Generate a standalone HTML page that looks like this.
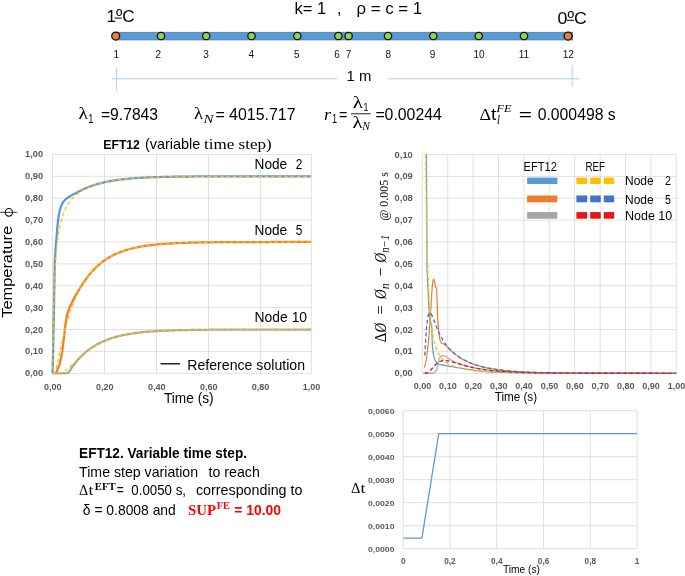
<!DOCTYPE html>
<html><head><meta charset="utf-8"><title>EFT12 variable time step</title>
<style>
html,body{margin:0;padding:0;background:#fff;}
body{width:685px;height:576px;overflow:hidden;font-family:"Liberation Sans",sans-serif;}
svg{display:block;}
</style></head><body>
<svg width="685" height="576" viewBox="0 0 685 576">
<rect x="0" y="0" width="685" height="576" fill="#ffffff"/>
<g opacity="0.999">
<rect x="115.7" y="32.2" width="457" height="7.8" fill="#5b9bd5" stroke="#41719c" stroke-width="0.6"/>
<circle cx="115.7" cy="36" r="4" fill="#ed7d31" stroke="#0d0d0d" stroke-width="1.25"/>
<circle cx="161.0" cy="36" r="3.7" fill="#92d050" stroke="#0d0d0d" stroke-width="1.25"/>
<circle cx="206.2" cy="36" r="3.7" fill="#92d050" stroke="#0d0d0d" stroke-width="1.25"/>
<circle cx="251.5" cy="36" r="3.7" fill="#92d050" stroke="#0d0d0d" stroke-width="1.25"/>
<circle cx="297.3" cy="36" r="3.7" fill="#92d050" stroke="#0d0d0d" stroke-width="1.25"/>
<circle cx="338.4" cy="36" r="3.7" fill="#92d050" stroke="#0d0d0d" stroke-width="1.25"/>
<circle cx="348.6" cy="36" r="3.7" fill="#92d050" stroke="#0d0d0d" stroke-width="1.25"/>
<circle cx="388.0" cy="36" r="3.7" fill="#92d050" stroke="#0d0d0d" stroke-width="1.25"/>
<circle cx="433.3" cy="36" r="3.7" fill="#92d050" stroke="#0d0d0d" stroke-width="1.25"/>
<circle cx="478.7" cy="36" r="3.7" fill="#92d050" stroke="#0d0d0d" stroke-width="1.25"/>
<circle cx="524.0" cy="36" r="3.7" fill="#92d050" stroke="#0d0d0d" stroke-width="1.25"/>
<circle cx="568.1" cy="36" r="4" fill="#ed7d31" stroke="#0d0d0d" stroke-width="1.25"/>
<text x="116.30" y="58.00" font-size="10" font-weight="normal" font-style="normal" font-family='"Liberation Sans", sans-serif' fill="#111" text-anchor="middle">1</text>
<text x="158.30" y="58.00" font-size="10" font-weight="normal" font-style="normal" font-family='"Liberation Sans", sans-serif' fill="#111" text-anchor="middle">2</text>
<text x="206.00" y="58.00" font-size="10" font-weight="normal" font-style="normal" font-family='"Liberation Sans", sans-serif' fill="#111" text-anchor="middle">3</text>
<text x="251.30" y="58.00" font-size="10" font-weight="normal" font-style="normal" font-family='"Liberation Sans", sans-serif' fill="#111" text-anchor="middle">4</text>
<text x="296.80" y="58.00" font-size="10" font-weight="normal" font-style="normal" font-family='"Liberation Sans", sans-serif' fill="#111" text-anchor="middle">5</text>
<text x="337.00" y="58.00" font-size="10" font-weight="normal" font-style="normal" font-family='"Liberation Sans", sans-serif' fill="#111" text-anchor="middle">6</text>
<text x="348.60" y="58.00" font-size="10" font-weight="normal" font-style="normal" font-family='"Liberation Sans", sans-serif' fill="#111" text-anchor="middle">7</text>
<text x="388.30" y="58.00" font-size="10" font-weight="normal" font-style="normal" font-family='"Liberation Sans", sans-serif' fill="#111" text-anchor="middle">8</text>
<text x="432.60" y="58.00" font-size="10" font-weight="normal" font-style="normal" font-family='"Liberation Sans", sans-serif' fill="#111" text-anchor="middle">9</text>
<text x="479.00" y="58.00" font-size="10" font-weight="normal" font-style="normal" font-family='"Liberation Sans", sans-serif' fill="#111" text-anchor="middle">10</text>
<text x="524.00" y="58.00" font-size="10" font-weight="normal" font-style="normal" font-family='"Liberation Sans", sans-serif' fill="#111" text-anchor="middle">11</text>
<text x="568.30" y="58.00" font-size="10" font-weight="normal" font-style="normal" font-family='"Liberation Sans", sans-serif' fill="#111" text-anchor="middle">12</text>
<text x="106.60" y="21.90" font-size="17" font-weight="normal" font-style="normal" font-family='"Liberation Sans", sans-serif' fill="#000" text-anchor="start" textLength="28.10" lengthAdjust="spacingAndGlyphs">1ºC</text>
<line x1="114.60" y1="18.10" x2="121.80" y2="18.10" stroke="#000" stroke-width="1.0"/>
<text x="557.60" y="24.00" font-size="17" font-weight="normal" font-style="normal" font-family='"Liberation Sans", sans-serif' fill="#000" text-anchor="start" textLength="29.20" lengthAdjust="spacingAndGlyphs">0ºC</text>
<line x1="566.60" y1="20.30" x2="574.00" y2="20.30" stroke="#000" stroke-width="1.0"/>
<text x="294.60" y="14.00" font-size="16" font-weight="normal" font-style="normal" font-family='"Liberation Sans", sans-serif' fill="#000" text-anchor="start" textLength="31.50" lengthAdjust="spacingAndGlyphs">k= 1</text>
<text x="337.00" y="14.00" font-size="16" font-weight="normal" font-style="normal" font-family='"Liberation Sans", sans-serif' fill="#000" text-anchor="start">,</text>
<text x="356.50" y="14.00" font-size="16" font-weight="normal" font-style="normal" font-family='"Liberation Sans", sans-serif' fill="#000" text-anchor="start" textLength="65.70" lengthAdjust="spacingAndGlyphs">ρ = c = 1</text>
<line x1="112.00" y1="78.80" x2="337.00" y2="78.80" stroke="#9dc3e6" stroke-width="0.8"/>
<line x1="388.60" y1="78.80" x2="579.00" y2="78.80" stroke="#9dc3e6" stroke-width="0.8"/>
<line x1="116.60" y1="67.70" x2="116.60" y2="91.00" stroke="#9dc3e6" stroke-width="0.8"/>
<line x1="572.20" y1="64.80" x2="572.20" y2="87.00" stroke="#9dc3e6" stroke-width="0.8"/>
<text x="346.60" y="81.20" font-size="15.5" font-weight="normal" font-style="normal" font-family='"Liberation Sans", sans-serif' fill="#000" text-anchor="start" textLength="24.80" lengthAdjust="spacingAndGlyphs">1 m</text>
<text x="78.40" y="119.20" font-size="17.5" font-weight="normal" font-style="normal" font-family='"Liberation Serif", serif' fill="#000" text-anchor="start" textLength="9.40" lengthAdjust="spacingAndGlyphs">λ</text>
<text x="88.20" y="122.70" font-size="12" font-weight="normal" font-style="normal" font-family='"Liberation Sans", sans-serif' fill="#000" text-anchor="start" textLength="5.20" lengthAdjust="spacingAndGlyphs">1</text>
<text x="100.90" y="119.50" font-size="16" font-weight="normal" font-style="normal" font-family='"Liberation Sans", sans-serif' fill="#000" text-anchor="start" textLength="57.20" lengthAdjust="spacingAndGlyphs">=9.7843</text>
<text x="194.10" y="119.20" font-size="17.5" font-weight="normal" font-style="normal" font-family='"Liberation Serif", serif' fill="#000" text-anchor="start" textLength="9.00" lengthAdjust="spacingAndGlyphs">λ</text>
<text x="203.60" y="122.70" font-size="13" font-weight="normal" font-style="italic" font-family='"Liberation Serif", serif' fill="#000" text-anchor="start" textLength="10.00" lengthAdjust="spacingAndGlyphs">N</text>
<text x="215.40" y="119.50" font-size="16" font-weight="normal" font-style="normal" font-family='"Liberation Sans", sans-serif' fill="#000" text-anchor="start" textLength="80.10" lengthAdjust="spacingAndGlyphs">= 4015.717</text>
<text x="324.00" y="119.50" font-size="17" font-weight="normal" font-style="italic" font-family='"Liberation Serif", serif' fill="#000" text-anchor="start" textLength="7.00" lengthAdjust="spacingAndGlyphs">r</text>
<text x="332.00" y="122.70" font-size="12" font-weight="normal" font-style="normal" font-family='"Liberation Sans", sans-serif' fill="#000" text-anchor="start" textLength="5.20" lengthAdjust="spacingAndGlyphs">1</text>
<text x="339.00" y="119.50" font-size="16" font-weight="normal" font-style="normal" font-family='"Liberation Sans", sans-serif' fill="#000" text-anchor="start" textLength="8.40" lengthAdjust="spacingAndGlyphs">=</text>
<text x="352.80" y="108.40" font-size="17.5" font-weight="normal" font-style="normal" font-family='"Liberation Serif", serif' fill="#000" text-anchor="start" textLength="10.20" lengthAdjust="spacingAndGlyphs">λ</text>
<text x="363.60" y="110.60" font-size="10.5" font-weight="normal" font-style="normal" font-family='"Liberation Sans", sans-serif' fill="#000" text-anchor="start" textLength="4.90" lengthAdjust="spacingAndGlyphs">1</text>
<line x1="351.00" y1="113.80" x2="370.60" y2="113.80" stroke="#000" stroke-width="0.9"/>
<text x="352.40" y="128.00" font-size="16" font-weight="normal" font-style="normal" font-family='"Liberation Serif", serif' fill="#000" text-anchor="start" textLength="10.00" lengthAdjust="spacingAndGlyphs">λ</text>
<text x="362.20" y="130.20" font-size="11.5" font-weight="normal" font-style="italic" font-family='"Liberation Serif", serif' fill="#000" text-anchor="start" textLength="7.60" lengthAdjust="spacingAndGlyphs">N</text>
<text x="375.40" y="119.50" font-size="16" font-weight="normal" font-style="normal" font-family='"Liberation Sans", sans-serif' fill="#000" text-anchor="start" textLength="66.40" lengthAdjust="spacingAndGlyphs">=0.00244</text>
<text x="479.40" y="119.50" font-size="16.5" font-weight="normal" font-style="normal" font-family='"Liberation Serif", serif' fill="#000" text-anchor="start" textLength="11.60" lengthAdjust="spacingAndGlyphs">Δ</text>
<text x="491.00" y="119.50" font-size="16" font-weight="normal" font-style="normal" font-family='"Liberation Sans", sans-serif' fill="#000" text-anchor="start" textLength="5.30" lengthAdjust="spacingAndGlyphs">t</text>
<text x="496.60" y="112.40" font-size="11" font-weight="normal" font-style="italic" font-family='"Liberation Serif", serif' fill="#000" text-anchor="start" textLength="15.00" lengthAdjust="spacingAndGlyphs">FE</text>
<text x="497.00" y="124.00" font-size="11.5" font-weight="normal" font-style="italic" font-family='"Liberation Serif", serif' fill="#000" text-anchor="start" textLength="3.00" lengthAdjust="spacingAndGlyphs">l</text>
<text x="518.80" y="119.50" font-size="16" font-weight="normal" font-style="normal" font-family='"Liberation Sans", sans-serif' fill="#000" text-anchor="start" textLength="13.20" lengthAdjust="spacingAndGlyphs">=</text>
<text x="537.70" y="119.50" font-size="16" font-weight="normal" font-style="normal" font-family='"Liberation Sans", sans-serif' fill="#000" text-anchor="start" textLength="78.00" lengthAdjust="spacingAndGlyphs">0.000498 s</text>
<line x1="52.50" y1="373.30" x2="311.40" y2="373.30" stroke="#d6d6d6" stroke-width="0.75"/>
<line x1="52.50" y1="351.41" x2="311.40" y2="351.41" stroke="#d6d6d6" stroke-width="0.75"/>
<line x1="52.50" y1="329.52" x2="311.40" y2="329.52" stroke="#d6d6d6" stroke-width="0.75"/>
<line x1="52.50" y1="307.63" x2="311.40" y2="307.63" stroke="#d6d6d6" stroke-width="0.75"/>
<line x1="52.50" y1="285.74" x2="311.40" y2="285.74" stroke="#d6d6d6" stroke-width="0.75"/>
<line x1="52.50" y1="263.85" x2="311.40" y2="263.85" stroke="#d6d6d6" stroke-width="0.75"/>
<line x1="52.50" y1="241.96" x2="311.40" y2="241.96" stroke="#d6d6d6" stroke-width="0.75"/>
<line x1="52.50" y1="220.07" x2="311.40" y2="220.07" stroke="#d6d6d6" stroke-width="0.75"/>
<line x1="52.50" y1="198.18" x2="311.40" y2="198.18" stroke="#d6d6d6" stroke-width="0.75"/>
<line x1="52.50" y1="176.29" x2="311.40" y2="176.29" stroke="#d6d6d6" stroke-width="0.75"/>
<line x1="52.50" y1="154.40" x2="311.40" y2="154.40" stroke="#d6d6d6" stroke-width="0.75"/>
<line x1="52.50" y1="154.40" x2="52.50" y2="373.30" stroke="#d6d6d6" stroke-width="0.75"/>
<line x1="104.50" y1="154.40" x2="104.50" y2="373.30" stroke="#d6d6d6" stroke-width="0.75"/>
<line x1="156.50" y1="154.40" x2="156.50" y2="373.30" stroke="#d6d6d6" stroke-width="0.75"/>
<line x1="208.50" y1="154.40" x2="208.50" y2="373.30" stroke="#d6d6d6" stroke-width="0.75"/>
<line x1="260.40" y1="154.40" x2="260.40" y2="373.30" stroke="#d6d6d6" stroke-width="0.75"/>
<line x1="311.40" y1="154.40" x2="311.40" y2="373.30" stroke="#d6d6d6" stroke-width="0.75"/>
<text x="25.00" y="376.30" font-size="8.5" font-weight="bold" font-style="normal" font-family='"Liberation Sans", sans-serif' fill="#595959" text-anchor="start" textLength="18.20" lengthAdjust="spacingAndGlyphs">0,00</text>
<text x="25.00" y="354.41" font-size="8.5" font-weight="bold" font-style="normal" font-family='"Liberation Sans", sans-serif' fill="#595959" text-anchor="start" textLength="18.20" lengthAdjust="spacingAndGlyphs">0,10</text>
<text x="25.00" y="332.52" font-size="8.5" font-weight="bold" font-style="normal" font-family='"Liberation Sans", sans-serif' fill="#595959" text-anchor="start" textLength="18.20" lengthAdjust="spacingAndGlyphs">0,20</text>
<text x="25.00" y="310.63" font-size="8.5" font-weight="bold" font-style="normal" font-family='"Liberation Sans", sans-serif' fill="#595959" text-anchor="start" textLength="18.20" lengthAdjust="spacingAndGlyphs">0,30</text>
<text x="25.00" y="288.74" font-size="8.5" font-weight="bold" font-style="normal" font-family='"Liberation Sans", sans-serif' fill="#595959" text-anchor="start" textLength="18.20" lengthAdjust="spacingAndGlyphs">0,40</text>
<text x="25.00" y="266.85" font-size="8.5" font-weight="bold" font-style="normal" font-family='"Liberation Sans", sans-serif' fill="#595959" text-anchor="start" textLength="18.20" lengthAdjust="spacingAndGlyphs">0,50</text>
<text x="25.00" y="244.96" font-size="8.5" font-weight="bold" font-style="normal" font-family='"Liberation Sans", sans-serif' fill="#595959" text-anchor="start" textLength="18.20" lengthAdjust="spacingAndGlyphs">0,60</text>
<text x="25.00" y="223.07" font-size="8.5" font-weight="bold" font-style="normal" font-family='"Liberation Sans", sans-serif' fill="#595959" text-anchor="start" textLength="18.20" lengthAdjust="spacingAndGlyphs">0,70</text>
<text x="25.00" y="201.18" font-size="8.5" font-weight="bold" font-style="normal" font-family='"Liberation Sans", sans-serif' fill="#595959" text-anchor="start" textLength="18.20" lengthAdjust="spacingAndGlyphs">0,80</text>
<text x="25.00" y="179.29" font-size="8.5" font-weight="bold" font-style="normal" font-family='"Liberation Sans", sans-serif' fill="#595959" text-anchor="start" textLength="18.20" lengthAdjust="spacingAndGlyphs">0,90</text>
<text x="25.00" y="157.40" font-size="8.5" font-weight="bold" font-style="normal" font-family='"Liberation Sans", sans-serif' fill="#595959" text-anchor="start" textLength="18.20" lengthAdjust="spacingAndGlyphs">1,00</text>
<text x="43.90" y="389.60" font-size="8.5" font-weight="bold" font-style="normal" font-family='"Liberation Sans", sans-serif' fill="#595959" text-anchor="start" textLength="17.60" lengthAdjust="spacingAndGlyphs">0,00</text>
<text x="95.90" y="389.60" font-size="8.5" font-weight="bold" font-style="normal" font-family='"Liberation Sans", sans-serif' fill="#595959" text-anchor="start" textLength="17.60" lengthAdjust="spacingAndGlyphs">0,20</text>
<text x="147.90" y="389.60" font-size="8.5" font-weight="bold" font-style="normal" font-family='"Liberation Sans", sans-serif' fill="#595959" text-anchor="start" textLength="17.60" lengthAdjust="spacingAndGlyphs">0,40</text>
<text x="199.90" y="389.60" font-size="8.5" font-weight="bold" font-style="normal" font-family='"Liberation Sans", sans-serif' fill="#595959" text-anchor="start" textLength="17.60" lengthAdjust="spacingAndGlyphs">0,60</text>
<text x="251.80" y="389.60" font-size="8.5" font-weight="bold" font-style="normal" font-family='"Liberation Sans", sans-serif' fill="#595959" text-anchor="start" textLength="17.60" lengthAdjust="spacingAndGlyphs">0,80</text>
<text x="302.80" y="389.60" font-size="8.5" font-weight="bold" font-style="normal" font-family='"Liberation Sans", sans-serif' fill="#595959" text-anchor="start" textLength="17.60" lengthAdjust="spacingAndGlyphs">1,00</text>
<polyline points="52.60,373.30 53.00,355.00 53.50,330.00 54.10,300.00 54.80,262.00 55.50,250.00 56.30,240.00 57.10,230.00 57.90,221.50 58.70,215.50 59.60,211.30 60.60,207.60 61.90,204.40 63.30,201.90 64.90,200.00 66.80,198.40 68.80,197.00 72.00,195.10 75.00,193.50 76.00,192.97 77.00,192.44 78.00,191.92 79.00,191.41 80.00,190.91 81.00,190.42 82.00,189.94 83.00,189.47 84.00,189.01 85.00,188.57 86.00,188.14 87.00,187.72 88.00,187.31 89.00,186.92 90.00,186.54 91.00,186.17 92.00,185.81 93.00,185.46 94.00,185.13 95.00,184.81 96.00,184.50 97.00,184.20 98.00,183.91 99.00,183.63 100.00,183.36 101.00,183.10 102.00,182.85 103.00,182.61 104.00,182.37 105.00,182.15 106.00,181.93 107.00,181.72 108.00,181.52 109.00,181.33 110.00,181.14 111.00,180.96 112.00,180.79 113.00,180.63 114.00,180.46 115.00,180.31 116.00,180.16 117.00,180.02 118.00,179.88 119.00,179.75 120.00,179.62 121.00,179.50 122.00,179.38 123.00,179.26 124.00,179.15 125.00,179.05 126.00,178.94 127.00,178.85 128.00,178.75 129.00,178.66 130.00,178.57 131.00,178.49 132.00,178.41 133.00,178.33 134.00,178.25 135.00,178.18 136.00,178.11 137.00,178.04 138.00,177.98 139.00,177.91 140.00,177.85 141.00,177.80 142.00,177.74 143.00,177.69 144.00,177.63 145.00,177.58 146.00,177.54 147.00,177.49 148.00,177.45 149.00,177.40 150.00,177.36 151.00,177.32 152.00,177.28 153.00,177.25 154.00,177.21 155.00,177.18 156.00,177.14 157.00,177.11 158.00,177.08 159.00,177.05 160.00,177.02 161.00,177.00 162.00,176.97 163.00,176.95 164.00,176.92 165.00,176.90 166.00,176.88 167.00,176.85 168.00,176.83 169.00,176.81 170.00,176.79 171.00,176.77 172.00,176.76 173.00,176.74 174.00,176.72 175.00,176.71 176.00,176.69 177.00,176.68 178.00,176.66 179.00,176.65 180.00,176.63 181.00,176.62 182.00,176.61 183.00,176.60 184.00,176.59 185.00,176.58 186.00,176.56 187.00,176.55 188.00,176.54 189.00,176.54 190.00,176.53 191.00,176.52 192.00,176.51 193.00,176.50 194.00,176.49 195.00,176.49 196.00,176.48 197.00,176.47 198.00,176.46 199.00,176.46 200.00,176.45 201.00,176.45 202.00,176.44 203.00,176.43 204.00,176.43 205.00,176.42 206.00,176.42 207.00,176.41 208.00,176.41 209.00,176.41 210.00,176.40 211.00,176.40 212.00,176.39 213.00,176.39 214.00,176.39 215.00,176.38 216.00,176.38 217.00,176.38 218.00,176.37 219.00,176.37 220.00,176.37 221.00,176.36 222.00,176.36 223.00,176.36 224.00,176.36 225.00,176.35 226.00,176.35 227.00,176.35 228.00,176.35 229.00,176.34 230.00,176.34 231.00,176.34 232.00,176.34 233.00,176.34 234.00,176.33 235.00,176.33 236.00,176.33 237.00,176.33 238.00,176.33 239.00,176.33 240.00,176.33 241.00,176.32 242.00,176.32 243.00,176.32 244.00,176.32 245.00,176.32 246.00,176.32 247.00,176.32 248.00,176.32 249.00,176.32 250.00,176.31 251.00,176.31 252.00,176.31 253.00,176.31 254.00,176.31 255.00,176.31 256.00,176.31 257.00,176.31 258.00,176.31 259.00,176.31 260.00,176.31 261.00,176.31 262.00,176.31 263.00,176.30 264.00,176.30 265.00,176.30 266.00,176.30 267.00,176.30 268.00,176.30 269.00,176.30 270.00,176.30 271.00,176.30 272.00,176.30 273.00,176.30 274.00,176.30 275.00,176.30 276.00,176.30 277.00,176.30 278.00,176.30 279.00,176.30 280.00,176.30 281.00,176.30 282.00,176.30 283.00,176.30 284.00,176.30 285.00,176.30 286.00,176.30 287.00,176.30 288.00,176.30 289.00,176.30 290.00,176.30 291.00,176.30 292.00,176.30 293.00,176.29 294.00,176.29 295.00,176.29 296.00,176.29 297.00,176.29 298.00,176.29 299.00,176.29 300.00,176.29 301.00,176.29 302.00,176.29 303.00,176.29 304.00,176.29 305.00,176.29 306.00,176.29 307.00,176.29 308.00,176.29 309.00,176.29 310.00,176.29 311.00,176.29 311.00,176.29" fill="none" stroke="#5b9bd5" stroke-width="2.25" stroke-linejoin="round"/>
<polyline points="55.50,373.30 56.50,372.10 59.70,364.00 62.10,352.70 63.70,339.80 65.30,325.30 66.90,315.60 68.50,310.20 70.20,306.00 74.20,297.90 79.00,289.90 80.00,288.24 81.00,286.62 82.00,285.02 83.00,283.47 84.00,281.96 85.00,280.50 86.00,279.08 87.00,277.72 88.00,276.39 89.00,275.12 90.00,273.89 91.00,272.70 92.00,271.56 93.00,270.46 94.00,269.40 95.00,268.37 96.00,267.39 97.00,266.44 98.00,265.53 99.00,264.66 100.00,263.81 101.00,263.00 102.00,262.22 103.00,261.46 104.00,260.74 105.00,260.04 106.00,259.37 107.00,258.72 108.00,258.10 109.00,257.50 110.00,256.92 111.00,256.37 112.00,255.83 113.00,255.32 114.00,254.82 115.00,254.34 116.00,253.88 117.00,253.44 118.00,253.02 119.00,252.60 120.00,252.21 121.00,251.83 122.00,251.46 123.00,251.11 124.00,250.77 125.00,250.44 126.00,250.13 127.00,249.83 128.00,249.53 129.00,249.25 130.00,248.98 131.00,248.72 132.00,248.47 133.00,248.23 134.00,248.00 135.00,247.77 136.00,247.56 137.00,247.35 138.00,247.15 139.00,246.96 140.00,246.77 141.00,246.59 142.00,246.42 143.00,246.26 144.00,246.10 145.00,245.94 146.00,245.80 147.00,245.65 148.00,245.52 149.00,245.39 150.00,245.26 151.00,245.14 152.00,245.02 153.00,244.90 154.00,244.80 155.00,244.69 156.00,244.59 157.00,244.49 158.00,244.40 159.00,244.31 160.00,244.22 161.00,244.14 162.00,244.06 163.00,243.98 164.00,243.90 165.00,243.83 166.00,243.76 167.00,243.69 168.00,243.63 169.00,243.57 170.00,243.51 171.00,243.45 172.00,243.40 173.00,243.34 174.00,243.29 175.00,243.24 176.00,243.19 177.00,243.15 178.00,243.10 179.00,243.06 180.00,243.02 181.00,242.98 182.00,242.94 183.00,242.91 184.00,242.87 185.00,242.84 186.00,242.81 187.00,242.77 188.00,242.74 189.00,242.72 190.00,242.69 191.00,242.66 192.00,242.63 193.00,242.61 194.00,242.59 195.00,242.56 196.00,242.54 197.00,242.52 198.00,242.50 199.00,242.48 200.00,242.46 201.00,242.44 202.00,242.42 203.00,242.41 204.00,242.39 205.00,242.37 206.00,242.36 207.00,242.34 208.00,242.33 209.00,242.31 210.00,242.30 211.00,242.29 212.00,242.28 213.00,242.26 214.00,242.25 215.00,242.24 216.00,242.23 217.00,242.22 218.00,242.21 219.00,242.20 220.00,242.19 221.00,242.19 222.00,242.18 223.00,242.17 224.00,242.16 225.00,242.15 226.00,242.15 227.00,242.14 228.00,242.13 229.00,242.13 230.00,242.12 231.00,242.11 232.00,242.11 233.00,242.10 234.00,242.10 235.00,242.09 236.00,242.09 237.00,242.08 238.00,242.08 239.00,242.07 240.00,242.07 241.00,242.07 242.00,242.06 243.00,242.06 244.00,242.05 245.00,242.05 246.00,242.05 247.00,242.04 248.00,242.04 249.00,242.04 250.00,242.04 251.00,242.03 252.00,242.03 253.00,242.03 254.00,242.02 255.00,242.02 256.00,242.02 257.00,242.02 258.00,242.02 259.00,242.01 260.00,242.01 261.00,242.01 262.00,242.01 263.00,242.01 264.00,242.00 265.00,242.00 266.00,242.00 267.00,242.00 268.00,242.00 269.00,242.00 270.00,242.00 271.00,241.99 272.00,241.99 273.00,241.99 274.00,241.99 275.00,241.99 276.00,241.99 277.00,241.99 278.00,241.99 279.00,241.99 280.00,241.98 281.00,241.98 282.00,241.98 283.00,241.98 284.00,241.98 285.00,241.98 286.00,241.98 287.00,241.98 288.00,241.98 289.00,241.98 290.00,241.98 291.00,241.98 292.00,241.98 293.00,241.97 294.00,241.97 295.00,241.97 296.00,241.97 297.00,241.97 298.00,241.97 299.00,241.97 300.00,241.97 301.00,241.97 302.00,241.97 303.00,241.97 304.00,241.97 305.00,241.97 306.00,241.97 307.00,241.97 308.00,241.97 309.00,241.97 310.00,241.97 311.00,241.97 311.00,241.97" fill="none" stroke="#ed7d31" stroke-width="2.25" stroke-linejoin="round"/>
<polyline points="52.60,373.30 67.70,373.20 69.30,371.60 71.00,368.90 74.20,364.20 79.00,358.60 83.90,353.60 84.90,352.78 85.90,351.97 86.90,351.19 87.90,350.43 88.90,349.69 89.90,348.98 90.90,348.29 91.90,347.62 92.90,346.97 93.90,346.34 94.90,345.73 95.90,345.14 96.90,344.57 97.90,344.03 98.90,343.50 99.90,342.99 100.90,342.49 101.90,342.02 102.90,341.56 103.90,341.12 104.90,340.69 105.90,340.28 106.90,339.88 107.90,339.50 108.90,339.13 109.90,338.78 110.90,338.44 111.90,338.11 112.90,337.79 113.90,337.49 114.90,337.19 115.90,336.91 116.90,336.63 117.90,336.37 118.90,336.12 119.90,335.87 120.90,335.64 121.90,335.41 122.90,335.19 123.90,334.98 124.90,334.78 125.90,334.59 126.90,334.40 127.90,334.22 128.90,334.04 129.90,333.88 130.90,333.71 131.90,333.56 132.90,333.41 133.90,333.26 134.90,333.13 135.90,332.99 136.90,332.86 137.90,332.74 138.90,332.62 139.90,332.51 140.90,332.39 141.90,332.29 142.90,332.19 143.90,332.09 144.90,331.99 145.90,331.90 146.90,331.81 147.90,331.73 148.90,331.64 149.90,331.57 150.90,331.49 151.90,331.42 152.90,331.35 153.90,331.28 154.90,331.21 155.90,331.15 156.90,331.09 157.90,331.03 158.90,330.98 159.90,330.92 160.90,330.87 161.90,330.82 162.90,330.77 163.90,330.73 164.90,330.68 165.90,330.64 166.90,330.60 167.90,330.56 168.90,330.52 169.90,330.48 170.90,330.45 171.90,330.41 172.90,330.38 173.90,330.35 174.90,330.32 175.90,330.29 176.90,330.26 177.90,330.23 178.90,330.20 179.90,330.18 180.90,330.15 181.90,330.13 182.90,330.11 183.90,330.09 184.90,330.07 185.90,330.04 186.90,330.03 187.90,330.01 188.90,329.99 189.90,329.97 190.90,329.95 191.90,329.94 192.90,329.92 193.90,329.91 194.90,329.89 195.90,329.88 196.90,329.87 197.90,329.85 198.90,329.84 199.90,329.83 200.90,329.82 201.90,329.81 202.90,329.80 203.90,329.79 204.90,329.78 205.90,329.77 206.90,329.76 207.90,329.75 208.90,329.74 209.90,329.73 210.90,329.72 211.90,329.72 212.90,329.71 213.90,329.70 214.90,329.70 215.90,329.69 216.90,329.68 217.90,329.68 218.90,329.67 219.90,329.67 220.90,329.66 221.90,329.65 222.90,329.65 223.90,329.64 224.90,329.64 225.90,329.64 226.90,329.63 227.90,329.63 228.90,329.62 229.90,329.62 230.90,329.62 231.90,329.61 232.90,329.61 233.90,329.61 234.90,329.60 235.90,329.60 236.90,329.60 237.90,329.59 238.90,329.59 239.90,329.59 240.90,329.59 241.90,329.58 242.90,329.58 243.90,329.58 244.90,329.58 245.90,329.57 246.90,329.57 247.90,329.57 248.90,329.57 249.90,329.57 250.90,329.56 251.90,329.56 252.90,329.56 253.90,329.56 254.90,329.56 255.90,329.56 256.90,329.56 257.90,329.55 258.90,329.55 259.90,329.55 260.90,329.55 261.90,329.55 262.90,329.55 263.90,329.55 264.90,329.55 265.90,329.55 266.90,329.54 267.90,329.54 268.90,329.54 269.90,329.54 270.90,329.54 271.90,329.54 272.90,329.54 273.90,329.54 274.90,329.54 275.90,329.54 276.90,329.54 277.90,329.54 278.90,329.54 279.90,329.54 280.90,329.53 281.90,329.53 282.90,329.53 283.90,329.53 284.90,329.53 285.90,329.53 286.90,329.53 287.90,329.53 288.90,329.53 289.90,329.53 290.90,329.53 291.90,329.53 292.90,329.53 293.90,329.53 294.90,329.53 295.90,329.53 296.90,329.53 297.90,329.53 298.90,329.53 299.90,329.53 300.90,329.53 301.90,329.53 302.90,329.53 303.90,329.53 304.90,329.53 305.90,329.53 306.90,329.53 307.90,329.53 308.90,329.53 309.90,329.52 310.90,329.52 311.00,329.52" fill="none" stroke="#a5a5a5" stroke-width="2.25" stroke-linejoin="round"/>
<polyline points="52.55,369.01 52.55,368.92 52.56,368.67 52.56,368.25 52.57,367.67 52.58,366.93 52.59,366.02 52.60,364.96 52.62,363.76 52.64,362.41 52.66,360.92 52.68,359.30 52.70,357.55 52.73,355.69 52.75,353.72 52.78,351.65 52.82,349.48 52.85,347.23 52.89,344.90 52.93,342.51 52.97,340.05 53.01,337.54 53.05,334.99 53.10,332.41 53.15,329.79 53.20,327.15 53.25,324.50 53.31,321.84 53.36,319.18 53.42,316.53 53.48,313.88 53.55,311.25 53.61,308.64 53.68,306.06 53.75,303.50 53.82,300.97 53.89,298.48 53.97,296.02 54.05,293.61 54.13,291.23 54.21,288.90 54.29,286.61 54.38,284.37 54.47,282.18 54.56,280.03 54.65,277.93 54.74,275.88 54.84,273.87 54.94,271.91 55.04,270.00 55.14,268.13 55.24,266.31 55.35,264.54 55.46,262.81 55.57,261.12 55.68,259.47 55.80,257.87 55.92,256.31 56.03,254.79 56.16,253.30 56.28,251.86 56.40,250.45 56.53,249.07 56.66,247.73 56.79,246.43 56.93,245.15 57.06,243.91 57.20,242.70 57.34,241.52 57.48,240.37 57.63,239.24 57.77,238.14 57.92,237.07 58.07,236.02 58.22,235.00 58.38,234.01 58.53,233.03 58.69,232.08 58.85,231.15 59.01,230.24 59.18,229.35 59.34,228.48 59.51,227.63 59.68,226.79 59.86,225.98 60.03,225.18 60.21,224.40 60.39,223.64 60.57,222.89 60.75,222.16 60.94,221.44 61.13,220.74 61.32,220.05 61.51,219.38 61.70,218.71 61.90,218.07 62.09,217.43 62.29,216.81 62.50,216.19 62.70,215.59 62.91,215.00 63.11,214.43 63.32,213.86 63.54,213.30 63.75,212.76 63.97,212.22 64.19,211.69 64.41,211.17 64.63,210.66 64.85,210.16 65.08,209.67 65.31,209.19 65.54,208.71 65.77,208.25 66.01,207.79 66.24,207.34 66.48,206.89 66.73,206.46 66.97,206.03 67.21,205.61 67.46,205.19 67.71,204.78 67.96,204.38 68.22,203.98 68.47,203.59 68.73,203.21 68.99,202.83 69.25,202.46 69.52,202.09 69.78,201.73 70.05,201.37 70.32,201.02 70.59,200.68 70.87,200.34 71.14,200.00 71.42,199.67 71.70,199.34 71.99,199.02 72.27,198.71 72.56,198.39 72.85,198.09 73.14,197.78 73.43,197.48 73.72,197.19 74.02,196.90 74.32,196.61 74.62,196.32 74.93,196.05 75.23,195.77 75.54,195.50 75.85,195.23 76.16,194.96 76.47,194.70 76.79,194.44 77.11,194.19 77.43,193.93 77.75,193.69 78.07,193.44 78.40,193.20 78.73,192.96 79.06,192.72 79.39,192.49 79.72,192.26 80.06,192.03 80.40,191.81 80.74,191.58 81.08,191.36 81.43,191.15 81.77,190.93 82.12,190.72 82.47,190.51 82.83,190.31 83.18,190.10 83.54,189.90 83.90,189.70 84.26,189.50 84.62,189.31 84.99,189.12 85.36,188.93 85.73,188.74 86.10,188.56 86.47,188.37 86.85,188.19 87.23,188.01 87.61,187.84 87.99,187.66 88.37,187.49 88.76,187.32 89.15,187.15 89.54,186.98 89.93,186.82 90.32,186.66 90.72,186.50 91.12,186.34 91.52,186.18 91.92,186.03 92.33,185.87 92.73,185.72 93.14,185.57 93.55,185.43 93.97,185.28 94.38,185.14 94.80,185.00 95.22,184.86 95.64,184.72 96.06,184.58 96.49,184.44 96.92,184.31 97.35,184.18 97.78,184.05 98.21,183.92 98.65,183.79 99.09,183.67 99.53,183.55 99.97,183.42 100.41,183.30 100.86,183.18 101.31,183.07 101.76,182.95 102.21,182.84 102.66,182.72 103.12,182.61 103.58,182.50 104.04,182.39 104.50,182.29 104.97,182.18 105.44,182.08 105.90,181.98 106.38,181.88 106.85,181.78 107.32,181.68 107.80,181.58 108.28,181.48 108.76,181.39 109.25,181.30 109.73,181.21 110.22,181.12 110.71,181.03 111.20,180.94 111.69,180.85 112.19,180.77 112.69,180.68 113.19,180.60 113.69,180.52 114.19,180.44 114.70,180.36 115.21,180.28 115.72,180.21 116.23,180.13 116.75,180.06 117.26,179.98 117.78,179.91 118.30,179.84 118.83,179.77 119.35,179.70 119.88,179.64 120.41,179.57 120.94,179.50 121.47,179.44 122.01,179.38 122.54,179.32 123.08,179.25 123.63,179.19 124.17,179.14 124.71,179.08 125.26,179.02 125.81,178.96 126.36,178.91 126.92,178.85 127.47,178.80 128.03,178.75 128.59,178.70 129.15,178.65 129.72,178.60 130.28,178.55 130.85,178.50 131.42,178.45 132.00,178.41 132.57,178.36 133.15,178.32 133.73,178.27 134.31,178.23 134.89,178.19 135.48,178.15 136.06,178.10 136.65,178.06 137.24,178.03 137.84,177.99 138.43,177.95 139.03,177.91 139.63,177.88 140.23,177.84 140.83,177.81 141.44,177.77 142.05,177.74 142.66,177.70 143.27,177.67 143.88,177.64 144.50,177.61 145.12,177.58 145.74,177.55 146.36,177.52 146.98,177.49 147.61,177.46 148.24,177.44 148.87,177.41 149.50,177.38 150.14,177.36 150.77,177.33 151.41,177.31 152.05,177.28 152.70,177.26 153.34,177.23 153.99,177.21 154.64,177.19 155.29,177.17 155.94,177.15 156.60,177.13 157.25,177.10 157.91,177.08 158.58,177.06 159.24,177.05 159.91,177.03 160.57,177.01 161.24,176.99 161.92,176.97 162.59,176.96 163.27,176.94 163.94,176.92 164.62,176.91 165.31,176.89 165.99,176.88 166.68,176.86 167.37,176.85 168.06,176.83 168.75,176.82 169.44,176.80 170.14,176.79 170.84,176.78 171.54,176.76 172.24,176.75 172.95,176.74 173.66,176.73 174.36,176.72 175.08,176.71 175.79,176.69 176.50,176.68 177.22,176.67 177.94,176.66 178.66,176.65 179.39,176.64 180.11,176.63 180.84,176.62 181.57,176.61 182.30,176.61 183.04,176.60 183.77,176.59 184.51,176.58 185.25,176.57 185.99,176.56 186.74,176.56 187.49,176.55 188.23,176.54 188.98,176.54 189.74,176.53 190.49,176.52 191.25,176.52 192.01,176.51 192.77,176.50 193.53,176.50 194.30,176.49 195.06,176.49 195.83,176.48 196.60,176.47 197.38,176.47 198.15,176.46 198.93,176.46 199.71,176.45 200.49,176.45 201.28,176.44 202.06,176.44 202.85,176.44 203.64,176.43 204.43,176.43 205.23,176.42 206.02,176.42 206.82,176.42 207.62,176.41 208.42,176.41 209.23,176.40 210.04,176.40 210.84,176.40 211.65,176.39 212.47,176.39 213.28,176.39 214.10,176.39 214.92,176.38 215.74,176.38 216.56,176.38 217.39,176.37 218.21,176.37 219.04,176.37 219.88,176.37 220.71,176.36 221.54,176.36 222.38,176.36 223.22,176.36 224.06,176.36 224.91,176.35 225.75,176.35 226.60,176.35 227.45,176.35 228.30,176.35 229.16,176.34 230.01,176.34 230.87,176.34 231.73,176.34 232.60,176.34 233.46,176.34 234.33,176.33 235.20,176.33 236.07,176.33 236.94,176.33 237.81,176.33 238.69,176.33 239.57,176.33 240.45,176.33 241.33,176.32 242.22,176.32 243.11,176.32 244.00,176.32 244.89,176.32 245.78,176.32 246.68,176.32 247.57,176.32 248.47,176.32 249.38,176.32 250.28,176.31 251.19,176.31 252.09,176.31 253.00,176.31 253.92,176.31 254.83,176.31 255.75,176.31 256.66,176.31 257.59,176.31 258.51,176.31 259.43,176.31 260.36,176.31 261.29,176.31 262.22,176.31 263.15,176.30 264.09,176.30 265.02,176.30 265.96,176.30 266.90,176.30 267.85,176.30 268.79,176.30 269.74,176.30 270.69,176.30 271.64,176.30 272.59,176.30 273.55,176.30 274.51,176.30 275.47,176.30 276.43,176.30 277.39,176.30 278.36,176.30 279.33,176.30 280.30,176.30 281.27,176.30 282.24,176.30 283.22,176.30 284.20,176.30 285.18,176.30 286.16,176.30 287.15,176.30 288.13,176.30 289.12,176.30 290.11,176.30 291.11,176.30 292.10,176.29 293.10,176.29 294.10,176.29 295.10,176.29 296.10,176.29 297.11,176.29 298.11,176.29 299.12,176.29 300.14,176.29 301.15,176.29 302.17,176.29 303.18,176.29 304.20,176.29 305.22,176.29 306.25,176.29 307.27,176.29 308.30,176.29 309.33,176.29 310.37,176.29 311.40,176.29" fill="none" stroke="#ffc000" stroke-width="1.3" stroke-linejoin="round" stroke-dasharray="3.6 2.8"/>
<polyline points="52.55,373.30 52.55,373.30 52.56,373.30 52.56,373.30 52.57,373.30 52.58,373.30 52.59,373.30 52.60,373.30 52.62,373.30 52.64,373.30 52.66,373.30 52.68,373.30 52.70,373.30 52.73,373.30 52.75,373.30 52.78,373.30 52.82,373.30 52.85,373.30 52.89,373.30 52.93,373.29 52.97,373.29 53.01,373.29 53.05,373.29 53.10,373.28 53.15,373.28 53.20,373.27 53.25,373.26 53.31,373.25 53.36,373.23 53.42,373.21 53.48,373.19 53.55,373.17 53.61,373.14 53.68,373.10 53.75,373.06 53.82,373.01 53.89,372.95 53.97,372.89 54.05,372.82 54.13,372.73 54.21,372.64 54.29,372.53 54.38,372.42 54.47,372.29 54.56,372.14 54.65,371.98 54.74,371.81 54.84,371.62 54.94,371.42 55.04,371.19 55.14,370.95 55.24,370.70 55.35,370.42 55.46,370.12 55.57,369.81 55.68,369.47 55.80,369.11 55.92,368.74 56.03,368.34 56.16,367.93 56.28,367.49 56.40,367.03 56.53,366.56 56.66,366.06 56.79,365.54 56.93,365.01 57.06,364.45 57.20,363.88 57.34,363.29 57.48,362.68 57.63,362.05 57.77,361.41 57.92,360.75 58.07,360.07 58.22,359.38 58.38,358.68 58.53,357.96 58.69,357.23 58.85,356.48 59.01,355.72 59.18,354.96 59.34,354.18 59.51,353.39 59.68,352.59 59.86,351.78 60.03,350.96 60.21,350.14 60.39,349.30 60.57,348.46 60.75,347.62 60.94,346.77 61.13,345.91 61.32,345.05 61.51,344.19 61.70,343.32 61.90,342.45 62.09,341.57 62.29,340.70 62.50,339.82 62.70,338.94 62.91,338.06 63.11,337.18 63.32,336.30 63.54,335.41 63.75,334.53 63.97,333.65 64.19,332.77 64.41,331.89 64.63,331.02 64.85,330.14 65.08,329.27 65.31,328.40 65.54,327.53 65.77,326.66 66.01,325.80 66.24,324.94 66.48,324.08 66.73,323.22 66.97,322.37 67.21,321.53 67.46,320.68 67.71,319.84 67.96,319.01 68.22,318.18 68.47,317.35 68.73,316.53 68.99,315.71 69.25,314.90 69.52,314.09 69.78,313.28 70.05,312.48 70.32,311.69 70.59,310.90 70.87,310.11 71.14,309.33 71.42,308.56 71.70,307.79 71.99,307.02 72.27,306.26 72.56,305.51 72.85,304.76 73.14,304.02 73.43,303.28 73.72,302.54 74.02,301.81 74.32,301.09 74.62,300.37 74.93,299.66 75.23,298.95 75.54,298.25 75.85,297.55 76.16,296.86 76.47,296.18 76.79,295.50 77.11,294.82 77.43,294.15 77.75,293.49 78.07,292.83 78.40,292.17 78.73,291.53 79.06,290.88 79.39,290.25 79.72,289.61 80.06,288.99 80.40,288.36 80.74,287.75 81.08,287.14 81.43,286.53 81.77,285.93 82.12,285.34 82.47,284.75 82.83,284.16 83.18,283.58 83.54,283.01 83.90,282.44 84.26,281.88 84.62,281.32 84.99,280.76 85.36,280.22 85.73,279.67 86.10,279.14 86.47,278.60 86.85,278.08 87.23,277.56 87.61,277.04 87.99,276.53 88.37,276.02 88.76,275.52 89.15,275.02 89.54,274.53 89.93,274.04 90.32,273.56 90.72,273.09 91.12,272.62 91.52,272.15 91.92,271.69 92.33,271.23 92.73,270.78 93.14,270.33 93.55,269.89 93.97,269.46 94.38,269.02 94.80,268.60 95.22,268.17 95.64,267.76 96.06,267.34 96.49,266.94 96.92,266.53 97.35,266.14 97.78,265.74 98.21,265.35 98.65,264.97 99.09,264.59 99.53,264.21 99.97,263.84 100.41,263.48 100.86,263.12 101.31,262.76 101.76,262.41 102.21,262.06 102.66,261.72 103.12,261.38 103.58,261.04 104.04,260.71 104.50,260.39 104.97,260.06 105.44,259.75 105.90,259.43 106.38,259.12 106.85,258.82 107.32,258.52 107.80,258.22 108.28,257.93 108.76,257.64 109.25,257.36 109.73,257.08 110.22,256.80 110.71,256.53 111.20,256.26 111.69,255.99 112.19,255.73 112.69,255.48 113.19,255.22 113.69,254.97 114.19,254.73 114.70,254.48 115.21,254.25 115.72,254.01 116.23,253.78 116.75,253.55 117.26,253.33 117.78,253.11 118.30,252.89 118.83,252.68 119.35,252.46 119.88,252.26 120.41,252.05 120.94,251.85 121.47,251.66 122.01,251.46 122.54,251.27 123.08,251.08 123.63,250.90 124.17,250.72 124.71,250.54 125.26,250.36 125.81,250.19 126.36,250.02 126.92,249.85 127.47,249.69 128.03,249.53 128.59,249.37 129.15,249.21 129.72,249.06 130.28,248.91 130.85,248.76 131.42,248.62 132.00,248.47 132.57,248.33 133.15,248.20 133.73,248.06 134.31,247.93 134.89,247.80 135.48,247.67 136.06,247.55 136.65,247.42 137.24,247.30 137.84,247.18 138.43,247.07 139.03,246.95 139.63,246.84 140.23,246.73 140.83,246.62 141.44,246.52 142.05,246.41 142.66,246.31 143.27,246.21 143.88,246.12 144.50,246.02 145.12,245.93 145.74,245.83 146.36,245.74 146.98,245.66 147.61,245.57 148.24,245.49 148.87,245.40 149.50,245.32 150.14,245.24 150.77,245.16 151.41,245.09 152.05,245.01 152.70,244.94 153.34,244.87 153.99,244.80 154.64,244.73 155.29,244.66 155.94,244.59 156.60,244.53 157.25,244.47 157.91,244.41 158.58,244.35 159.24,244.29 159.91,244.23 160.57,244.17 161.24,244.12 161.92,244.06 162.59,244.01 163.27,243.96 163.94,243.91 164.62,243.86 165.31,243.81 165.99,243.76 166.68,243.72 167.37,243.67 168.06,243.63 168.75,243.58 169.44,243.54 170.14,243.50 170.84,243.46 171.54,243.42 172.24,243.38 172.95,243.35 173.66,243.31 174.36,243.27 175.08,243.24 175.79,243.20 176.50,243.17 177.22,243.14 177.94,243.11 178.66,243.08 179.39,243.05 180.11,243.02 180.84,242.99 181.57,242.96 182.30,242.93 183.04,242.91 183.77,242.88 184.51,242.85 185.25,242.83 185.99,242.81 186.74,242.78 187.49,242.76 188.23,242.74 188.98,242.72 189.74,242.69 190.49,242.67 191.25,242.65 192.01,242.63 192.77,242.62 193.53,242.60 194.30,242.58 195.06,242.56 195.83,242.54 196.60,242.53 197.38,242.51 198.15,242.49 198.93,242.48 199.71,242.46 200.49,242.45 201.28,242.43 202.06,242.42 202.85,242.41 203.64,242.39 204.43,242.38 205.23,242.37 206.02,242.36 206.82,242.35 207.62,242.33 208.42,242.32 209.23,242.31 210.04,242.30 210.84,242.29 211.65,242.28 212.47,242.27 213.28,242.26 214.10,242.25 214.92,242.24 215.74,242.23 216.56,242.23 217.39,242.22 218.21,242.21 219.04,242.20 219.88,242.20 220.71,242.19 221.54,242.18 222.38,242.17 223.22,242.17 224.06,242.16 224.91,242.15 225.75,242.15 226.60,242.14 227.45,242.14 228.30,242.13 229.16,242.13 230.01,242.12 230.87,242.12 231.73,242.11 232.60,242.11 233.46,242.10 234.33,242.10 235.20,242.09 236.07,242.09 236.94,242.08 237.81,242.08 238.69,242.08 239.57,242.07 240.45,242.07 241.33,242.06 242.22,242.06 243.11,242.06 244.00,242.05 244.89,242.05 245.78,242.05 246.68,242.05 247.57,242.04 248.47,242.04 249.38,242.04 250.28,242.03 251.19,242.03 252.09,242.03 253.00,242.03 253.92,242.02 254.83,242.02 255.75,242.02 256.66,242.02 257.59,242.02 258.51,242.01 259.43,242.01 260.36,242.01 261.29,242.01 262.22,242.01 263.15,242.01 264.09,242.00 265.02,242.00 265.96,242.00 266.90,242.00 267.85,242.00 268.79,242.00 269.74,242.00 270.69,241.99 271.64,241.99 272.59,241.99 273.55,241.99 274.51,241.99 275.47,241.99 276.43,241.99 277.39,241.99 278.36,241.99 279.33,241.98 280.30,241.98 281.27,241.98 282.24,241.98 283.22,241.98 284.20,241.98 285.18,241.98 286.16,241.98 287.15,241.98 288.13,241.98 289.12,241.98 290.11,241.98 291.11,241.98 292.10,241.98 293.10,241.97 294.10,241.97 295.10,241.97 296.10,241.97 297.11,241.97 298.11,241.97 299.12,241.97 300.14,241.97 301.15,241.97 302.17,241.97 303.18,241.97 304.20,241.97 305.22,241.97 306.25,241.97 307.27,241.97 308.30,241.97 309.33,241.97 310.37,241.97 311.40,241.97" fill="none" stroke="#ffc000" stroke-width="1.3" stroke-linejoin="round" stroke-dasharray="3.6 2.8"/>
<polyline points="52.55,373.30 52.55,373.30 52.56,373.30 52.56,373.30 52.57,373.30 52.58,373.30 52.59,373.30 52.60,373.30 52.62,373.30 52.64,373.30 52.66,373.30 52.68,373.30 52.70,373.30 52.73,373.30 52.75,373.30 52.78,373.30 52.82,373.30 52.85,373.30 52.89,373.30 52.93,373.30 52.97,373.30 53.01,373.30 53.05,373.30 53.10,373.30 53.15,373.30 53.20,373.30 53.25,373.30 53.31,373.30 53.36,373.30 53.42,373.30 53.48,373.30 53.55,373.30 53.61,373.30 53.68,373.30 53.75,373.30 53.82,373.30 53.89,373.30 53.97,373.30 54.05,373.30 54.13,373.30 54.21,373.30 54.29,373.30 54.38,373.30 54.47,373.30 54.56,373.30 54.65,373.30 54.74,373.30 54.84,373.30 54.94,373.30 55.04,373.30 55.14,373.30 55.24,373.30 55.35,373.30 55.46,373.30 55.57,373.30 55.68,373.30 55.80,373.30 55.92,373.29 56.03,373.29 56.16,373.29 56.28,373.29 56.40,373.29 56.53,373.29 56.66,373.28 56.79,373.28 56.93,373.28 57.06,373.27 57.20,373.27 57.34,373.26 57.48,373.25 57.63,373.25 57.77,373.24 57.92,373.23 58.07,373.22 58.22,373.20 58.38,373.19 58.53,373.17 58.69,373.16 58.85,373.14 59.01,373.12 59.18,373.09 59.34,373.07 59.51,373.04 59.68,373.01 59.86,372.98 60.03,372.94 60.21,372.90 60.39,372.86 60.57,372.81 60.75,372.76 60.94,372.71 61.13,372.66 61.32,372.60 61.51,372.53 61.70,372.46 61.90,372.39 62.09,372.31 62.29,372.23 62.50,372.15 62.70,372.06 62.91,371.96 63.11,371.86 63.32,371.76 63.54,371.65 63.75,371.53 63.97,371.41 64.19,371.28 64.41,371.15 64.63,371.02 64.85,370.88 65.08,370.73 65.31,370.58 65.54,370.42 65.77,370.26 66.01,370.09 66.24,369.91 66.48,369.74 66.73,369.55 66.97,369.36 67.21,369.17 67.46,368.97 67.71,368.76 67.96,368.55 68.22,368.34 68.47,368.12 68.73,367.90 68.99,367.67 69.25,367.44 69.52,367.20 69.78,366.96 70.05,366.71 70.32,366.46 70.59,366.21 70.87,365.95 71.14,365.69 71.42,365.42 71.70,365.16 71.99,364.88 72.27,364.61 72.56,364.33 72.85,364.05 73.14,363.77 73.43,363.48 73.72,363.19 74.02,362.90 74.32,362.61 74.62,362.31 74.93,362.01 75.23,361.71 75.54,361.41 75.85,361.11 76.16,360.81 76.47,360.50 76.79,360.19 77.11,359.89 77.43,359.58 77.75,359.27 78.07,358.96 78.40,358.65 78.73,358.34 79.06,358.02 79.39,357.71 79.72,357.40 80.06,357.09 80.40,356.78 80.74,356.47 81.08,356.15 81.43,355.84 81.77,355.53 82.12,355.22 82.47,354.91 82.83,354.61 83.18,354.30 83.54,353.99 83.90,353.69 84.26,353.38 84.62,353.08 84.99,352.78 85.36,352.48 85.73,352.18 86.10,351.88 86.47,351.59 86.85,351.29 87.23,351.00 87.61,350.71 87.99,350.42 88.37,350.13 88.76,349.84 89.15,349.56 89.54,349.28 89.93,349.00 90.32,348.72 90.72,348.45 91.12,348.17 91.52,347.90 91.92,347.63 92.33,347.37 92.73,347.10 93.14,346.84 93.55,346.58 93.97,346.32 94.38,346.06 94.80,345.81 95.22,345.56 95.64,345.31 96.06,345.07 96.49,344.82 96.92,344.58 97.35,344.34 97.78,344.11 98.21,343.87 98.65,343.64 99.09,343.41 99.53,343.19 99.97,342.96 100.41,342.74 100.86,342.52 101.31,342.31 101.76,342.10 102.21,341.88 102.66,341.68 103.12,341.47 103.58,341.27 104.04,341.06 104.50,340.87 104.97,340.67 105.44,340.48 105.90,340.28 106.38,340.10 106.85,339.91 107.32,339.73 107.80,339.54 108.28,339.37 108.76,339.19 109.25,339.01 109.73,338.84 110.22,338.67 110.71,338.51 111.20,338.34 111.69,338.18 112.19,338.02 112.69,337.86 113.19,337.70 113.69,337.55 114.19,337.40 114.70,337.25 115.21,337.10 115.72,336.96 116.23,336.82 116.75,336.68 117.26,336.54 117.78,336.40 118.30,336.27 118.83,336.14 119.35,336.01 119.88,335.88 120.41,335.75 120.94,335.63 121.47,335.51 122.01,335.39 122.54,335.27 123.08,335.15 123.63,335.04 124.17,334.93 124.71,334.82 125.26,334.71 125.81,334.60 126.36,334.50 126.92,334.40 127.47,334.29 128.03,334.19 128.59,334.10 129.15,334.00 129.72,333.91 130.28,333.81 130.85,333.72 131.42,333.63 132.00,333.54 132.57,333.46 133.15,333.37 133.73,333.29 134.31,333.21 134.89,333.13 135.48,333.05 136.06,332.97 136.65,332.90 137.24,332.82 137.84,332.75 138.43,332.68 139.03,332.61 139.63,332.54 140.23,332.47 140.83,332.40 141.44,332.34 142.05,332.27 142.66,332.21 143.27,332.15 143.88,332.09 144.50,332.03 145.12,331.97 145.74,331.91 146.36,331.86 146.98,331.80 147.61,331.75 148.24,331.70 148.87,331.65 149.50,331.60 150.14,331.55 150.77,331.50 151.41,331.45 152.05,331.41 152.70,331.36 153.34,331.32 153.99,331.27 154.64,331.23 155.29,331.19 155.94,331.15 156.60,331.11 157.25,331.07 157.91,331.03 158.58,330.99 159.24,330.96 159.91,330.92 160.57,330.89 161.24,330.85 161.92,330.82 162.59,330.79 163.27,330.75 163.94,330.72 164.62,330.69 165.31,330.66 165.99,330.63 166.68,330.61 167.37,330.58 168.06,330.55 168.75,330.52 169.44,330.50 170.14,330.47 170.84,330.45 171.54,330.42 172.24,330.40 172.95,330.38 173.66,330.35 174.36,330.33 175.08,330.31 175.79,330.29 176.50,330.27 177.22,330.25 177.94,330.23 178.66,330.21 179.39,330.19 180.11,330.17 180.84,330.16 181.57,330.14 182.30,330.12 183.04,330.10 183.77,330.09 184.51,330.07 185.25,330.06 185.99,330.04 186.74,330.03 187.49,330.01 188.23,330.00 188.98,329.99 189.74,329.97 190.49,329.96 191.25,329.95 192.01,329.94 192.77,329.92 193.53,329.91 194.30,329.90 195.06,329.89 195.83,329.88 196.60,329.87 197.38,329.86 198.15,329.85 198.93,329.84 199.71,329.83 200.49,329.82 201.28,329.81 202.06,329.80 202.85,329.80 203.64,329.79 204.43,329.78 205.23,329.77 206.02,329.77 206.82,329.76 207.62,329.75 208.42,329.74 209.23,329.74 210.04,329.73 210.84,329.72 211.65,329.72 212.47,329.71 213.28,329.71 214.10,329.70 214.92,329.70 215.74,329.69 216.56,329.68 217.39,329.68 218.21,329.67 219.04,329.67 219.88,329.67 220.71,329.66 221.54,329.66 222.38,329.65 223.22,329.65 224.06,329.64 224.91,329.64 225.75,329.64 226.60,329.63 227.45,329.63 228.30,329.63 229.16,329.62 230.01,329.62 230.87,329.62 231.73,329.61 232.60,329.61 233.46,329.61 234.33,329.60 235.20,329.60 236.07,329.60 236.94,329.60 237.81,329.59 238.69,329.59 239.57,329.59 240.45,329.59 241.33,329.58 242.22,329.58 243.11,329.58 244.00,329.58 244.89,329.58 245.78,329.57 246.68,329.57 247.57,329.57 248.47,329.57 249.38,329.57 250.28,329.57 251.19,329.56 252.09,329.56 253.00,329.56 253.92,329.56 254.83,329.56 255.75,329.56 256.66,329.56 257.59,329.55 258.51,329.55 259.43,329.55 260.36,329.55 261.29,329.55 262.22,329.55 263.15,329.55 264.09,329.55 265.02,329.55 265.96,329.55 266.90,329.54 267.85,329.54 268.79,329.54 269.74,329.54 270.69,329.54 271.64,329.54 272.59,329.54 273.55,329.54 274.51,329.54 275.47,329.54 276.43,329.54 277.39,329.54 278.36,329.54 279.33,329.54 280.30,329.53 281.27,329.53 282.24,329.53 283.22,329.53 284.20,329.53 285.18,329.53 286.16,329.53 287.15,329.53 288.13,329.53 289.12,329.53 290.11,329.53 291.11,329.53 292.10,329.53 293.10,329.53 294.10,329.53 295.10,329.53 296.10,329.53 297.11,329.53 298.11,329.53 299.12,329.53 300.14,329.53 301.15,329.53 302.17,329.53 303.18,329.53 304.20,329.53 305.22,329.53 306.25,329.53 307.27,329.53 308.30,329.53 309.33,329.52 310.37,329.52 311.40,329.52" fill="none" stroke="#ffc000" stroke-width="1.3" stroke-linejoin="round" stroke-dasharray="3.6 2.8"/>
<text x="103.30" y="148.90" font-size="13.6" font-weight="bold" font-style="normal" font-family='"Liberation Sans", sans-serif' fill="#000" text-anchor="start" textLength="36.60" lengthAdjust="spacingAndGlyphs">EFT12</text>
<text x="144.90" y="148.90" font-size="14.2" font-weight="normal" font-style="normal" font-family='"Liberation Sans", sans-serif' fill="#000" text-anchor="start" textLength="55.50" lengthAdjust="spacingAndGlyphs">(variable</text>
<text x="204.00" y="148.90" font-size="15" font-weight="normal" font-style="normal" font-family='"Liberation Serif", serif' fill="#000" text-anchor="start" textLength="67.70" lengthAdjust="spacingAndGlyphs">time step)</text>
<text x="254.60" y="168.90" font-size="14.2" font-weight="normal" font-style="normal" font-family='"Liberation Sans", sans-serif' fill="#000" text-anchor="start" textLength="32.60" lengthAdjust="spacingAndGlyphs">Node</text>
<text x="295.80" y="168.90" font-size="14.2" font-weight="normal" font-style="normal" font-family='"Liberation Sans", sans-serif' fill="#000" text-anchor="start" textLength="6.60" lengthAdjust="spacingAndGlyphs">2</text>
<text x="254.60" y="235.40" font-size="14.2" font-weight="normal" font-style="normal" font-family='"Liberation Sans", sans-serif' fill="#000" text-anchor="start" textLength="32.60" lengthAdjust="spacingAndGlyphs">Node</text>
<text x="295.80" y="235.40" font-size="14.2" font-weight="normal" font-style="normal" font-family='"Liberation Sans", sans-serif' fill="#000" text-anchor="start" textLength="6.60" lengthAdjust="spacingAndGlyphs">5</text>
<text x="254.60" y="321.80" font-size="14.2" font-weight="normal" font-style="normal" font-family='"Liberation Sans", sans-serif' fill="#000" text-anchor="start" textLength="52.50" lengthAdjust="spacingAndGlyphs">Node 10</text>
<line x1="160.50" y1="363.80" x2="180.20" y2="363.80" stroke="#000" stroke-width="1.3"/>
<text x="187.30" y="369.60" font-size="14.2" font-weight="normal" font-style="normal" font-family='"Liberation Sans", sans-serif' fill="#000" text-anchor="start" textLength="117.70" lengthAdjust="spacingAndGlyphs">Reference solution</text>
<text x="163.90" y="403.30" font-size="14.6" font-weight="normal" font-style="normal" font-family='"Liberation Sans", sans-serif' fill="#000" text-anchor="start" textLength="49.80" lengthAdjust="spacingAndGlyphs">Time (s)</text>
<g transform="translate(12.4,317.8) rotate(-90)">
<text x="0.00" y="0.00" font-size="14.6" font-weight="normal" font-style="normal" font-family='"Liberation Sans", sans-serif' fill="#000" text-anchor="start" textLength="92.00" lengthAdjust="spacingAndGlyphs">Temperature</text>
</g>
<ellipse cx="8.9" cy="212.3" rx="3.6" ry="3.85" fill="none" stroke="#000" stroke-width="1.05"/>
<line x1="0.20" y1="212.30" x2="16.90" y2="212.30" stroke="#000" stroke-width="0.8"/>
<line x1="422.30" y1="373.30" x2="676.30" y2="373.30" stroke="#d6d6d6" stroke-width="0.75"/>
<line x1="422.30" y1="351.42" x2="676.30" y2="351.42" stroke="#d6d6d6" stroke-width="0.75"/>
<line x1="422.30" y1="329.54" x2="676.30" y2="329.54" stroke="#d6d6d6" stroke-width="0.75"/>
<line x1="422.30" y1="307.66" x2="676.30" y2="307.66" stroke="#d6d6d6" stroke-width="0.75"/>
<line x1="422.30" y1="285.78" x2="676.30" y2="285.78" stroke="#d6d6d6" stroke-width="0.75"/>
<line x1="422.30" y1="263.90" x2="676.30" y2="263.90" stroke="#d6d6d6" stroke-width="0.75"/>
<line x1="422.30" y1="242.02" x2="676.30" y2="242.02" stroke="#d6d6d6" stroke-width="0.75"/>
<line x1="422.30" y1="220.14" x2="676.30" y2="220.14" stroke="#d6d6d6" stroke-width="0.75"/>
<line x1="422.30" y1="198.26" x2="676.30" y2="198.26" stroke="#d6d6d6" stroke-width="0.75"/>
<line x1="422.30" y1="176.38" x2="676.30" y2="176.38" stroke="#d6d6d6" stroke-width="0.75"/>
<line x1="422.30" y1="154.50" x2="676.30" y2="154.50" stroke="#d6d6d6" stroke-width="0.75"/>
<line x1="422.30" y1="154.50" x2="422.30" y2="373.30" stroke="#d6d6d6" stroke-width="0.75"/>
<line x1="447.70" y1="154.50" x2="447.70" y2="373.30" stroke="#d6d6d6" stroke-width="0.75"/>
<line x1="473.10" y1="154.50" x2="473.10" y2="373.30" stroke="#d6d6d6" stroke-width="0.75"/>
<line x1="498.50" y1="154.50" x2="498.50" y2="373.30" stroke="#d6d6d6" stroke-width="0.75"/>
<line x1="523.90" y1="154.50" x2="523.90" y2="373.30" stroke="#d6d6d6" stroke-width="0.75"/>
<line x1="549.30" y1="154.50" x2="549.30" y2="373.30" stroke="#d6d6d6" stroke-width="0.75"/>
<line x1="574.70" y1="154.50" x2="574.70" y2="373.30" stroke="#d6d6d6" stroke-width="0.75"/>
<line x1="600.10" y1="154.50" x2="600.10" y2="373.30" stroke="#d6d6d6" stroke-width="0.75"/>
<line x1="625.50" y1="154.50" x2="625.50" y2="373.30" stroke="#d6d6d6" stroke-width="0.75"/>
<line x1="650.90" y1="154.50" x2="650.90" y2="373.30" stroke="#d6d6d6" stroke-width="0.75"/>
<line x1="676.30" y1="154.50" x2="676.30" y2="373.30" stroke="#d6d6d6" stroke-width="0.75"/>
<text x="394.60" y="376.30" font-size="8.5" font-weight="bold" font-style="normal" font-family='"Liberation Sans", sans-serif' fill="#595959" text-anchor="start" textLength="18.20" lengthAdjust="spacingAndGlyphs">0,00</text>
<text x="394.60" y="354.42" font-size="8.5" font-weight="bold" font-style="normal" font-family='"Liberation Sans", sans-serif' fill="#595959" text-anchor="start" textLength="18.20" lengthAdjust="spacingAndGlyphs">0,01</text>
<text x="394.60" y="332.54" font-size="8.5" font-weight="bold" font-style="normal" font-family='"Liberation Sans", sans-serif' fill="#595959" text-anchor="start" textLength="18.20" lengthAdjust="spacingAndGlyphs">0,02</text>
<text x="394.60" y="310.66" font-size="8.5" font-weight="bold" font-style="normal" font-family='"Liberation Sans", sans-serif' fill="#595959" text-anchor="start" textLength="18.20" lengthAdjust="spacingAndGlyphs">0,03</text>
<text x="394.60" y="288.78" font-size="8.5" font-weight="bold" font-style="normal" font-family='"Liberation Sans", sans-serif' fill="#595959" text-anchor="start" textLength="18.20" lengthAdjust="spacingAndGlyphs">0,04</text>
<text x="394.60" y="266.90" font-size="8.5" font-weight="bold" font-style="normal" font-family='"Liberation Sans", sans-serif' fill="#595959" text-anchor="start" textLength="18.20" lengthAdjust="spacingAndGlyphs">0,05</text>
<text x="394.60" y="245.02" font-size="8.5" font-weight="bold" font-style="normal" font-family='"Liberation Sans", sans-serif' fill="#595959" text-anchor="start" textLength="18.20" lengthAdjust="spacingAndGlyphs">0,06</text>
<text x="394.60" y="223.14" font-size="8.5" font-weight="bold" font-style="normal" font-family='"Liberation Sans", sans-serif' fill="#595959" text-anchor="start" textLength="18.20" lengthAdjust="spacingAndGlyphs">0,07</text>
<text x="394.60" y="201.26" font-size="8.5" font-weight="bold" font-style="normal" font-family='"Liberation Sans", sans-serif' fill="#595959" text-anchor="start" textLength="18.20" lengthAdjust="spacingAndGlyphs">0,08</text>
<text x="394.60" y="179.38" font-size="8.5" font-weight="bold" font-style="normal" font-family='"Liberation Sans", sans-serif' fill="#595959" text-anchor="start" textLength="18.20" lengthAdjust="spacingAndGlyphs">0,09</text>
<text x="394.60" y="157.50" font-size="8.5" font-weight="bold" font-style="normal" font-family='"Liberation Sans", sans-serif' fill="#595959" text-anchor="start" textLength="18.20" lengthAdjust="spacingAndGlyphs">0,10</text>
<text x="413.70" y="389.40" font-size="8.5" font-weight="bold" font-style="normal" font-family='"Liberation Sans", sans-serif' fill="#595959" text-anchor="start" textLength="17.60" lengthAdjust="spacingAndGlyphs">0,00</text>
<text x="439.10" y="389.40" font-size="8.5" font-weight="bold" font-style="normal" font-family='"Liberation Sans", sans-serif' fill="#595959" text-anchor="start" textLength="17.60" lengthAdjust="spacingAndGlyphs">0,10</text>
<text x="464.50" y="389.40" font-size="8.5" font-weight="bold" font-style="normal" font-family='"Liberation Sans", sans-serif' fill="#595959" text-anchor="start" textLength="17.60" lengthAdjust="spacingAndGlyphs">0,20</text>
<text x="489.90" y="389.40" font-size="8.5" font-weight="bold" font-style="normal" font-family='"Liberation Sans", sans-serif' fill="#595959" text-anchor="start" textLength="17.60" lengthAdjust="spacingAndGlyphs">0,30</text>
<text x="515.30" y="389.40" font-size="8.5" font-weight="bold" font-style="normal" font-family='"Liberation Sans", sans-serif' fill="#595959" text-anchor="start" textLength="17.60" lengthAdjust="spacingAndGlyphs">0,40</text>
<text x="540.70" y="389.40" font-size="8.5" font-weight="bold" font-style="normal" font-family='"Liberation Sans", sans-serif' fill="#595959" text-anchor="start" textLength="17.60" lengthAdjust="spacingAndGlyphs">0,50</text>
<text x="566.10" y="389.40" font-size="8.5" font-weight="bold" font-style="normal" font-family='"Liberation Sans", sans-serif' fill="#595959" text-anchor="start" textLength="17.60" lengthAdjust="spacingAndGlyphs">0,60</text>
<text x="591.50" y="389.40" font-size="8.5" font-weight="bold" font-style="normal" font-family='"Liberation Sans", sans-serif' fill="#595959" text-anchor="start" textLength="17.60" lengthAdjust="spacingAndGlyphs">0,70</text>
<text x="616.90" y="389.40" font-size="8.5" font-weight="bold" font-style="normal" font-family='"Liberation Sans", sans-serif' fill="#595959" text-anchor="start" textLength="17.60" lengthAdjust="spacingAndGlyphs">0,80</text>
<text x="642.30" y="389.40" font-size="8.5" font-weight="bold" font-style="normal" font-family='"Liberation Sans", sans-serif' fill="#595959" text-anchor="start" textLength="17.60" lengthAdjust="spacingAndGlyphs">0,90</text>
<text x="667.70" y="389.40" font-size="8.5" font-weight="bold" font-style="normal" font-family='"Liberation Sans", sans-serif' fill="#595959" text-anchor="start" textLength="17.60" lengthAdjust="spacingAndGlyphs">1,00</text>
<clipPath id="cp2"><rect x="420.3" y="154.5" width="257.99999999999994" height="220.8"/></clipPath>
<g clip-path="url(#cp2)">
<polyline points="426.30,100.00 426.50,154.50 427.00,270.00 428.00,289.10 428.90,308.20 429.90,319.70 430.70,324.00 431.70,324.90 432.30,345.00 433.30,354.00 434.70,359.70 437.00,363.40 439.30,364.40 447.50,365.90 459.20,368.00 473.80,370.30 488.40,372.00 489.40,372.01 490.40,372.02 491.40,372.03 492.40,372.06 493.40,372.08 494.40,372.11 495.40,372.14 496.40,372.17 497.40,372.20 498.40,372.23 499.40,372.26 500.40,372.29 501.40,372.33 502.40,372.36 503.40,372.39 504.40,372.42 505.40,372.45 506.40,372.48 507.40,372.51 508.40,372.54 509.40,372.56 510.40,372.59 511.40,372.62 512.40,372.64 513.40,372.67 514.40,372.69 515.40,372.71 516.40,372.73 517.40,372.75 518.40,372.77 519.40,372.79 520.40,372.81 521.40,372.83 522.40,372.85 523.40,372.87 524.40,372.88 525.40,372.90 526.40,372.91 527.40,372.93 528.40,372.94 529.40,372.95 530.40,372.97 531.40,372.98 532.40,372.99 533.40,373.00 534.40,373.02 535.40,373.03 536.40,373.04 537.40,373.05 538.40,373.06 539.40,373.07 540.40,373.07 541.40,373.08 542.40,373.09 543.40,373.10 544.40,373.11 545.40,373.11 546.40,373.12 547.40,373.13 548.40,373.13 549.40,373.14 550.40,373.15 551.40,373.15 552.40,373.16 553.40,373.16 554.40,373.17 555.40,373.17 556.40,373.18 557.40,373.18 558.40,373.19 559.40,373.19 560.40,373.20 561.40,373.20 562.40,373.20 563.40,373.21 564.40,373.21 565.40,373.21 566.40,373.22 567.40,373.22 568.40,373.22 569.40,373.23 570.40,373.23 571.40,373.23 572.40,373.23 573.40,373.24 574.40,373.24 575.40,373.24 576.40,373.24 577.40,373.25 578.40,373.25 579.40,373.25 580.40,373.25 581.40,373.25 582.40,373.26 583.40,373.26 584.40,373.26 585.40,373.26 586.40,373.26 587.40,373.26 588.40,373.26 589.40,373.27 590.40,373.27 591.40,373.27 592.40,373.27 593.40,373.27 594.40,373.27 595.40,373.27 596.40,373.27 597.40,373.27 598.40,373.28 599.40,373.28 600.40,373.28 601.40,373.28 602.40,373.28 603.40,373.28 604.40,373.28 605.40,373.28 606.40,373.28 607.40,373.28 608.40,373.28 609.40,373.28 610.40,373.28 611.40,373.29 612.40,373.29 613.40,373.29 614.40,373.29 615.40,373.29 616.40,373.29 617.40,373.29 618.40,373.29 619.40,373.29 620.40,373.29 621.40,373.29 622.40,373.29 623.40,373.29 624.40,373.29 625.40,373.29 626.40,373.29 627.40,373.29 628.40,373.29 629.40,373.29 630.40,373.29 631.40,373.29 632.40,373.29 633.40,373.29 634.40,373.29 635.40,373.29 636.40,373.29 637.40,373.29 638.40,373.29 639.40,373.30 640.40,373.30 641.40,373.30 642.40,373.30 643.40,373.30 644.40,373.30 645.40,373.30 646.40,373.30 647.40,373.30 648.40,373.30 649.40,373.30 650.40,373.30 651.40,373.30 652.40,373.30 653.40,373.30 654.40,373.30 655.40,373.30 656.40,373.30 657.40,373.30 658.40,373.30 659.40,373.30 660.40,373.30 661.40,373.30 662.40,373.30 663.40,373.30 664.40,373.30 665.40,373.30 666.40,373.30 667.40,373.30 668.40,373.30 669.40,373.30 670.40,373.30 671.40,373.30 672.40,373.30 673.40,373.30 674.40,373.30 675.40,373.30 675.90,373.30" fill="none" stroke="#5b9bd5" stroke-width="1.2" stroke-linejoin="round"/>
<polyline points="424.20,367.50 425.50,363.60 426.80,356.00 428.40,342.60 429.90,323.50 431.10,304.40 432.20,287.20 433.00,280.50 433.70,279.20 434.90,283.40 435.60,287.20 436.60,288.20 437.20,304.40 437.90,321.60 438.90,333.10 439.80,339.60 441.70,343.40 442.70,343.57 443.70,344.08 444.70,344.80 445.70,345.64 446.70,346.57 447.70,347.52 448.70,348.49 449.70,349.45 450.70,350.39 451.70,351.30 452.70,352.18 453.70,353.03 454.70,353.85 455.70,354.63 456.70,355.38 457.70,356.09 458.70,356.78 459.70,357.43 460.70,358.06 461.70,358.66 462.70,359.23 463.70,359.78 464.70,360.31 465.70,360.81 466.70,361.29 467.70,361.76 468.70,362.20 469.70,362.63 470.70,363.04 471.70,363.43 472.70,363.81 473.70,364.17 474.70,364.52 475.70,364.86 476.70,365.18 477.70,365.49 478.70,365.79 479.70,366.07 480.70,366.35 481.70,366.61 482.70,366.86 483.70,367.11 484.70,367.34 485.70,367.57 486.70,367.79 487.70,367.99 488.70,368.20 489.70,368.39 490.70,368.57 491.70,368.75 492.70,368.93 493.70,369.09 494.70,369.25 495.70,369.40 496.70,369.55 497.70,369.69 498.70,369.83 499.70,369.96 500.70,370.09 501.70,370.21 502.70,370.32 503.70,370.44 504.70,370.55 505.70,370.65 506.70,370.75 507.70,370.85 508.70,370.94 509.70,371.03 510.70,371.11 511.70,371.20 512.70,371.28 513.70,371.35 514.70,371.43 515.70,371.50 516.70,371.57 517.70,371.63 518.70,371.69 519.70,371.75 520.70,371.81 521.70,371.87 522.70,371.92 523.70,371.98 524.70,372.03 525.70,372.07 526.70,372.12 527.70,372.16 528.70,372.21 529.70,372.25 530.70,372.29 531.70,372.33 532.70,372.36 533.70,372.40 534.70,372.43 535.70,372.47 536.70,372.50 537.70,372.53 538.70,372.56 539.70,372.58 540.70,372.61 541.70,372.64 542.70,372.66 543.70,372.69 544.70,372.71 545.70,372.73 546.70,372.75 547.70,372.77 548.70,372.79 549.70,372.81 550.70,372.83 551.70,372.85 552.70,372.87 553.70,372.88 554.70,372.90 555.70,372.91 556.70,372.93 557.70,372.94 558.70,372.96 559.70,372.97 560.70,372.98 561.70,372.99 562.70,373.01 563.70,373.02 564.70,373.03 565.70,373.04 566.70,373.05 567.70,373.06 568.70,373.07 569.70,373.07 570.70,373.08 571.70,373.09 572.70,373.10 573.70,373.11 574.70,373.11 575.70,373.12 576.70,373.13 577.70,373.13 578.70,373.14 579.70,373.15 580.70,373.15 581.70,373.16 582.70,373.16 583.70,373.17 584.70,373.17 585.70,373.18 586.70,373.18 587.70,373.19 588.70,373.19 589.70,373.20 590.70,373.20 591.70,373.20 592.70,373.21 593.70,373.21 594.70,373.21 595.70,373.22 596.70,373.22 597.70,373.22 598.70,373.23 599.70,373.23 600.70,373.23 601.70,373.23 602.70,373.24 603.70,373.24 604.70,373.24 605.70,373.24 606.70,373.25 607.70,373.25 608.70,373.25 609.70,373.25 610.70,373.25 611.70,373.26 612.70,373.26 613.70,373.26 614.70,373.26 615.70,373.26 616.70,373.26 617.70,373.26 618.70,373.27 619.70,373.27 620.70,373.27 621.70,373.27 622.70,373.27 623.70,373.27 624.70,373.27 625.70,373.27 626.70,373.27 627.70,373.28 628.70,373.28 629.70,373.28 630.70,373.28 631.70,373.28 632.70,373.28 633.70,373.28 634.70,373.28 635.70,373.28 636.70,373.28 637.70,373.28 638.70,373.28 639.70,373.28 640.70,373.29 641.70,373.29 642.70,373.29 643.70,373.29 644.70,373.29 645.70,373.29 646.70,373.29 647.70,373.29 648.70,373.29 649.70,373.29 650.70,373.29 651.70,373.29 652.70,373.29 653.70,373.29 654.70,373.29 655.70,373.29 656.70,373.29 657.70,373.29 658.70,373.29 659.70,373.29 660.70,373.29 661.70,373.29 662.70,373.29 663.70,373.29 664.70,373.29 665.70,373.29 666.70,373.29 667.70,373.29 668.70,373.30 669.70,373.30 670.70,373.30 671.70,373.30 672.70,373.30 673.70,373.30 674.70,373.30 675.70,373.30 675.90,373.30" fill="none" stroke="#ed7d31" stroke-width="1.2" stroke-linejoin="round"/>
<polyline points="422.60,373.30 433.20,373.20 435.10,372.20 437.00,369.40 437.90,363.60 438.90,358.90 440.80,356.40 443.00,355.50 446.50,356.80 447.50,357.65 448.50,358.40 449.50,359.09 450.50,359.71 451.50,360.29 452.50,360.82 453.50,361.32 454.50,361.79 455.50,362.23 456.50,362.65 457.50,363.05 458.50,363.43 459.50,363.80 460.50,364.15 461.50,364.48 462.50,364.81 463.50,365.12 464.50,365.42 465.50,365.71 466.50,365.99 467.50,366.26 468.50,366.52 469.50,366.77 470.50,367.01 471.50,367.24 472.50,367.46 473.50,367.68 474.50,367.89 475.50,368.09 476.50,368.29 477.50,368.47 478.50,368.65 479.50,368.83 480.50,368.99 481.50,369.15 482.50,369.31 483.50,369.46 484.50,369.60 485.50,369.74 486.50,369.88 487.50,370.00 488.50,370.13 489.50,370.25 490.50,370.36 491.50,370.47 492.50,370.58 493.50,370.68 494.50,370.78 495.50,370.88 496.50,370.97 497.50,371.06 498.50,371.14 499.50,371.22 500.50,371.30 501.50,371.38 502.50,371.45 503.50,371.52 504.50,371.59 505.50,371.65 506.50,371.71 507.50,371.77 508.50,371.83 509.50,371.89 510.50,371.94 511.50,371.99 512.50,372.04 513.50,372.09 514.50,372.13 515.50,372.18 516.50,372.22 517.50,372.26 518.50,372.30 519.50,372.34 520.50,372.37 521.50,372.41 522.50,372.44 523.50,372.48 524.50,372.51 525.50,372.54 526.50,372.57 527.50,372.59 528.50,372.62 529.50,372.65 530.50,372.67 531.50,372.69 532.50,372.72 533.50,372.74 534.50,372.76 535.50,372.78 536.50,372.80 537.50,372.82 538.50,372.84 539.50,372.85 540.50,372.87 541.50,372.89 542.50,372.90 543.50,372.92 544.50,372.93 545.50,372.95 546.50,372.96 547.50,372.97 548.50,372.99 549.50,373.00 550.50,373.01 551.50,373.02 552.50,373.03 553.50,373.04 554.50,373.05 555.50,373.06 556.50,373.07 557.50,373.08 558.50,373.09 559.50,373.09 560.50,373.10 561.50,373.11 562.50,373.12 563.50,373.12 564.50,373.13 565.50,373.14 566.50,373.14 567.50,373.15 568.50,373.15 569.50,373.16 570.50,373.17 571.50,373.17 572.50,373.18 573.50,373.18 574.50,373.18 575.50,373.19 576.50,373.19 577.50,373.20 578.50,373.20 579.50,373.20 580.50,373.21 581.50,373.21 582.50,373.22 583.50,373.22 584.50,373.22 585.50,373.22 586.50,373.23 587.50,373.23 588.50,373.23 589.50,373.24 590.50,373.24 591.50,373.24 592.50,373.24 593.50,373.24 594.50,373.25 595.50,373.25 596.50,373.25 597.50,373.25 598.50,373.25 599.50,373.26 600.50,373.26 601.50,373.26 602.50,373.26 603.50,373.26 604.50,373.26 605.50,373.26 606.50,373.27 607.50,373.27 608.50,373.27 609.50,373.27 610.50,373.27 611.50,373.27 612.50,373.27 613.50,373.27 614.50,373.28 615.50,373.28 616.50,373.28 617.50,373.28 618.50,373.28 619.50,373.28 620.50,373.28 621.50,373.28 622.50,373.28 623.50,373.28 624.50,373.28 625.50,373.28 626.50,373.28 627.50,373.28 628.50,373.29 629.50,373.29 630.50,373.29 631.50,373.29 632.50,373.29 633.50,373.29 634.50,373.29 635.50,373.29 636.50,373.29 637.50,373.29 638.50,373.29 639.50,373.29 640.50,373.29 641.50,373.29 642.50,373.29 643.50,373.29 644.50,373.29 645.50,373.29 646.50,373.29 647.50,373.29 648.50,373.29 649.50,373.29 650.50,373.29 651.50,373.29 652.50,373.29 653.50,373.29 654.50,373.29 655.50,373.29 656.50,373.30 657.50,373.30 658.50,373.30 659.50,373.30 660.50,373.30 661.50,373.30 662.50,373.30 663.50,373.30 664.50,373.30 665.50,373.30 666.50,373.30 667.50,373.30 668.50,373.30 669.50,373.30 670.50,373.30 671.50,373.30 672.50,373.30 673.50,373.30 674.50,373.30 675.50,373.30 675.90,373.30" fill="none" stroke="#a5a5a5" stroke-width="1.2" stroke-linejoin="round"/>
<polyline points="424.74,27.08 424.74,27.21 424.74,27.60 424.74,28.25 424.75,29.16 424.76,30.32 424.76,31.73 424.77,33.39 424.78,35.29 424.80,37.43 424.81,39.79 424.82,42.37 424.84,45.17 424.86,48.17 424.88,51.36 424.90,54.74 424.92,58.30 424.94,62.03 424.96,65.91 424.99,69.94 425.02,74.10 425.05,78.38 425.08,82.78 425.11,87.28 425.14,91.87 425.18,96.55 425.21,101.29 425.25,106.09 425.29,110.94 425.33,115.83 425.37,120.75 425.41,125.69 425.45,130.65 425.50,135.60 425.55,140.55 425.59,145.49 425.64,150.40 425.70,155.29 425.75,160.15 425.80,164.96 425.86,169.73 425.91,174.44 425.97,179.11 426.03,183.71 426.09,188.24 426.15,192.71 426.22,197.11 426.28,201.43 426.35,205.68 426.42,209.85 426.49,213.94 426.56,217.95 426.63,221.88 426.70,225.72 426.78,229.48 426.85,233.16 426.93,236.75 427.01,240.26 427.09,243.68 427.17,247.02 427.25,250.28 427.34,253.46 427.42,256.55 427.51,259.57 427.60,262.50 427.69,265.36 427.78,268.15 427.88,270.85 427.97,273.49 428.07,276.05 428.16,278.54 428.26,280.96 428.36,283.32 428.46,285.60 428.56,287.83 428.67,289.99 428.77,292.09 428.88,294.13 428.99,296.11 429.10,298.04 429.21,299.91 429.32,301.73 429.44,303.50 429.55,305.21 429.67,306.88 429.79,308.50 429.91,310.07 430.03,311.60 430.15,313.08 430.27,314.52 430.40,315.92 430.53,317.29 430.65,318.61 430.78,319.89 430.91,321.14 431.04,322.36 431.18,323.54 431.31,324.68 431.45,325.80 431.59,326.88 431.73,327.94 431.87,328.96 432.01,329.96 432.15,330.93 432.30,331.87 432.44,332.79 432.59,333.68 432.74,334.55 432.89,335.39 433.04,336.22 433.19,337.02 433.35,337.80 433.50,338.55 433.66,339.29 433.82,340.01 433.98,340.71 434.14,341.39 434.30,342.05 434.47,342.70 434.63,343.33 434.80,343.94 434.97,344.54 435.14,345.13 435.31,345.69 435.48,346.25 435.66,346.79 435.83,347.31 436.01,347.83 436.19,348.33 436.37,348.81 436.55,349.29 436.73,349.75 436.91,350.21 437.10,350.65 437.29,351.08 437.47,351.50 437.66,351.91 437.85,352.31 438.05,352.70 438.24,353.09 438.43,353.46 438.63,353.82 438.83,354.18 439.03,354.53 439.23,354.87 439.43,355.20 439.63,355.52 439.84,355.84 440.04,356.15 440.25,356.45 440.46,356.75 440.67,357.03 440.88,357.32 441.10,357.59 441.31,357.86 441.53,358.13 441.74,358.39 441.96,358.64 442.18,358.89 442.40,359.13 442.63,359.37 442.85,359.60 443.08,359.82 443.30,360.05 443.53,360.26 443.76,360.48 443.99,360.69 444.23,360.89 444.46,361.09 444.70,361.29 444.93,361.48 445.17,361.67 445.41,361.85 445.65,362.03 445.89,362.21 446.14,362.38 446.38,362.55 446.63,362.72 446.88,362.88 447.13,363.04 447.38,363.20 447.63,363.35 447.88,363.50 448.14,363.65 448.40,363.80 448.65,363.94 448.91,364.08 449.17,364.22 449.44,364.35 449.70,364.49 449.96,364.62 450.23,364.74 450.50,364.87 450.77,364.99 451.04,365.11 451.31,365.23 451.58,365.35 451.86,365.47 452.13,365.58 452.41,365.69 452.69,365.80 452.97,365.91 453.25,366.01 453.53,366.12 453.82,366.22 454.10,366.32 454.39,366.42 454.68,366.52 454.97,366.61 455.26,366.71 455.55,366.80 455.85,366.89 456.14,366.98 456.44,367.07 456.74,367.16 457.04,367.24 457.34,367.33 457.64,367.41 457.95,367.49 458.25,367.57 458.56,367.65 458.87,367.73 459.18,367.81 459.49,367.89 459.80,367.96 460.11,368.04 460.43,368.11 460.75,368.18 461.06,368.25 461.38,368.32 461.70,368.39 462.03,368.46 462.35,368.53 462.67,368.59 463.00,368.66 463.33,368.72 463.66,368.79 463.99,368.85 464.32,368.91 464.65,368.97 464.99,369.03 465.32,369.09 465.66,369.15 466.00,369.21 466.34,369.27 466.68,369.33 467.03,369.38 467.37,369.44 467.72,369.49 468.06,369.55 468.41,369.60 468.76,369.65 469.11,369.70 469.47,369.76 469.82,369.81 470.18,369.86 470.53,369.91 470.89,369.95 471.25,370.00 471.61,370.05 471.98,370.10 472.34,370.14 472.71,370.19 473.07,370.23 473.44,370.28 473.81,370.32 474.18,370.37 474.55,370.41 474.93,370.45 475.30,370.50 475.68,370.54 476.06,370.58 476.44,370.62 476.82,370.66 477.20,370.70 477.58,370.74 477.97,370.78 478.36,370.81 478.74,370.85 479.13,370.89 479.52,370.93 479.91,370.96 480.31,371.00 480.70,371.03 481.10,371.07 481.50,371.10 481.90,371.14 482.30,371.17 482.70,371.20 483.10,371.24 483.51,371.27 483.91,371.30 484.32,371.33 484.73,371.36 485.14,371.39 485.55,371.42 485.96,371.45 486.38,371.48 486.79,371.51 487.21,371.54 487.63,371.57 488.05,371.60 488.47,371.62 488.89,371.65 489.32,371.68 489.74,371.70 490.17,371.73 490.60,371.76 491.03,371.78 491.46,371.81 491.89,371.83 492.33,371.86 492.76,371.88 493.20,371.90 493.64,371.93 494.08,371.95 494.52,371.97 494.96,372.00 495.40,372.02 495.85,372.04 496.29,372.06 496.74,372.08 497.19,372.10 497.64,372.12 498.09,372.15 498.55,372.17 499.00,372.18 499.46,372.20 499.92,372.22 500.38,372.24 500.84,372.26 501.30,372.28 501.76,372.30 502.23,372.32 502.69,372.33 503.16,372.35 503.63,372.37 504.10,372.38 504.57,372.40 505.04,372.42 505.52,372.43 505.99,372.45 506.47,372.46 506.95,372.48 507.43,372.49 507.91,372.51 508.39,372.52 508.88,372.54 509.36,372.55 509.85,372.57 510.34,372.58 510.83,372.59 511.32,372.61 511.81,372.62 512.31,372.63 512.80,372.65 513.30,372.66 513.80,372.67 514.30,372.68 514.80,372.69 515.30,372.71 515.80,372.72 516.31,372.73 516.82,372.74 517.32,372.75 517.83,372.76 518.34,372.77 518.86,372.78 519.37,372.79 519.89,372.80 520.40,372.81 520.92,372.82 521.44,372.83 521.96,372.84 522.48,372.85 523.00,372.86 523.53,372.87 524.06,372.88 524.58,372.88 525.11,372.89 525.64,372.90 526.17,372.91 526.71,372.92 527.24,372.92 527.78,372.93 528.32,372.94 528.85,372.95 529.39,372.95 529.94,372.96 530.48,372.97 531.02,372.98 531.57,372.98 532.12,372.99 532.66,373.00 533.21,373.00 533.77,373.01 534.32,373.01 534.87,373.02 535.43,373.03 535.99,373.03 536.54,373.04 537.10,373.04 537.66,373.05 538.23,373.05 538.79,373.06 539.36,373.06 539.92,373.07 540.49,373.07 541.06,373.08 541.63,373.08 542.20,373.09 542.78,373.09 543.35,373.10 543.93,373.10 544.51,373.11 545.09,373.11 545.67,373.12 546.25,373.12 546.83,373.12 547.42,373.13 548.00,373.13 548.59,373.14 549.18,373.14 549.77,373.14 550.36,373.15 550.96,373.15 551.55,373.15 552.15,373.16 552.74,373.16 553.34,373.16 553.94,373.17 554.54,373.17 555.15,373.17 555.75,373.17 556.36,373.18 556.97,373.18 557.57,373.18 558.18,373.19 558.80,373.19 559.41,373.19 560.02,373.19 560.64,373.20 561.26,373.20 561.87,373.20 562.49,373.20 563.11,373.21 563.74,373.21 564.36,373.21 564.99,373.21 565.61,373.21 566.24,373.22 566.87,373.22 567.50,373.22 568.13,373.22 568.77,373.22 569.40,373.23 570.04,373.23 570.68,373.23 571.32,373.23 571.96,373.23 572.60,373.23 573.24,373.24 573.89,373.24 574.54,373.24 575.18,373.24 575.83,373.24 576.48,373.24 577.14,373.25 577.79,373.25 578.44,373.25 579.10,373.25 579.76,373.25 580.42,373.25 581.08,373.25 581.74,373.25 582.40,373.26 583.07,373.26 583.73,373.26 584.40,373.26 585.07,373.26 585.74,373.26 586.41,373.26 587.08,373.26 587.76,373.26 588.43,373.26 589.11,373.27 589.79,373.27 590.47,373.27 591.15,373.27 591.83,373.27 592.52,373.27 593.20,373.27 593.89,373.27 594.58,373.27 595.27,373.27 595.96,373.27 596.65,373.27 597.34,373.27 598.04,373.28 598.74,373.28 599.43,373.28 600.13,373.28 600.83,373.28 601.54,373.28 602.24,373.28 602.95,373.28 603.65,373.28 604.36,373.28 605.07,373.28 605.78,373.28 606.49,373.28 607.21,373.28 607.92,373.28 608.64,373.28 609.35,373.28 610.07,373.28 610.79,373.28 611.52,373.29 612.24,373.29 612.96,373.29 613.69,373.29 614.42,373.29 615.15,373.29 615.88,373.29 616.61,373.29 617.34,373.29 618.07,373.29 618.81,373.29 619.55,373.29 620.29,373.29 621.03,373.29 621.77,373.29 622.51,373.29 623.25,373.29 624.00,373.29 624.75,373.29 625.50,373.29 626.25,373.29 627.00,373.29 627.75,373.29 628.50,373.29 629.26,373.29 630.02,373.29 630.77,373.29 631.53,373.29 632.29,373.29 633.06,373.29 633.82,373.29 634.59,373.29 635.35,373.29 636.12,373.29 636.89,373.29 637.66,373.29 638.43,373.29 639.21,373.29 639.98,373.30 640.76,373.30 641.53,373.30 642.31,373.30 643.09,373.30 643.88,373.30 644.66,373.30 645.44,373.30 646.23,373.30 647.02,373.30 647.81,373.30 648.60,373.30 649.39,373.30 650.18,373.30 650.98,373.30 651.77,373.30 652.57,373.30 653.37,373.30 654.17,373.30 654.97,373.30 655.77,373.30 656.58,373.30 657.38,373.30 658.19,373.30 659.00,373.30 659.81,373.30 660.62,373.30 661.43,373.30 662.25,373.30 663.06,373.30 663.88,373.30 664.70,373.30 665.52,373.30 666.34,373.30 667.16,373.30 667.98,373.30 668.81,373.30 669.64,373.30 670.46,373.30 671.29,373.30 672.12,373.30 672.96,373.30 673.79,373.30 674.63,373.30 675.46,373.30 676.30,373.30" fill="none" stroke="#ffc000" stroke-width="1.35" stroke-linejoin="round" stroke-dasharray="3.8 2.6"/>
<polyline points="424.74,355.50 424.74,355.49 424.74,355.45 424.74,355.39 424.75,355.31 424.76,355.21 424.76,355.08 424.77,354.93 424.78,354.75 424.80,354.55 424.81,354.33 424.82,354.08 424.84,353.81 424.86,353.52 424.88,353.20 424.90,352.86 424.92,352.49 424.94,352.10 424.96,351.68 424.99,351.25 425.02,350.78 425.05,350.30 425.08,349.79 425.11,349.26 425.14,348.70 425.18,348.13 425.21,347.53 425.25,346.91 425.29,346.27 425.33,345.61 425.37,344.93 425.41,344.23 425.45,343.51 425.50,342.77 425.55,342.02 425.59,341.26 425.64,340.48 425.70,339.69 425.75,338.89 425.80,338.08 425.86,337.26 425.91,336.43 425.97,335.60 426.03,334.76 426.09,333.92 426.15,333.08 426.22,332.24 426.28,331.40 426.35,330.57 426.42,329.74 426.49,328.92 426.56,328.10 426.63,327.30 426.70,326.51 426.78,325.73 426.85,324.96 426.93,324.21 427.01,323.48 427.09,322.76 427.17,322.07 427.25,321.39 427.34,320.74 427.42,320.10 427.51,319.50 427.60,318.91 427.69,318.35 427.78,317.82 427.88,317.31 427.97,316.83 428.07,316.37 428.16,315.95 428.26,315.55 428.36,315.18 428.46,314.83 428.56,314.52 428.67,314.23 428.77,313.97 428.88,313.74 428.99,313.53 429.10,313.36 429.21,313.21 429.32,313.08 429.44,312.98 429.55,312.91 429.67,312.87 429.79,312.84 429.91,312.85 430.03,312.87 430.15,312.92 430.27,312.99 430.40,313.08 430.53,313.19 430.65,313.33 430.78,313.48 430.91,313.65 431.04,313.84 431.18,314.05 431.31,314.27 431.45,314.51 431.59,314.76 431.73,315.03 431.87,315.32 432.01,315.61 432.15,315.92 432.30,316.24 432.44,316.58 432.59,316.92 432.74,317.27 432.89,317.63 433.04,318.00 433.19,318.38 433.35,318.77 433.50,319.16 433.66,319.56 433.82,319.97 433.98,320.38 434.14,320.80 434.30,321.22 434.47,321.64 434.63,322.07 434.80,322.51 434.97,322.94 435.14,323.38 435.31,323.82 435.48,324.26 435.66,324.71 435.83,325.15 436.01,325.60 436.19,326.04 436.37,326.49 436.55,326.94 436.73,327.38 436.91,327.83 437.10,328.27 437.29,328.72 437.47,329.16 437.66,329.60 437.85,330.04 438.05,330.48 438.24,330.92 438.43,331.36 438.63,331.79 438.83,332.22 439.03,332.65 439.23,333.08 439.43,333.50 439.63,333.92 439.84,334.34 440.04,334.76 440.25,335.17 440.46,335.58 440.67,335.99 440.88,336.39 441.10,336.79 441.31,337.19 441.53,337.58 441.74,337.98 441.96,338.36 442.18,338.75 442.40,339.13 442.63,339.51 442.85,339.88 443.08,340.26 443.30,340.62 443.53,340.99 443.76,341.35 443.99,341.71 444.23,342.07 444.46,342.42 444.70,342.77 444.93,343.11 445.17,343.45 445.41,343.79 445.65,344.13 445.89,344.46 446.14,344.79 446.38,345.11 446.63,345.44 446.88,345.76 447.13,346.07 447.38,346.39 447.63,346.70 447.88,347.00 448.14,347.31 448.40,347.61 448.65,347.91 448.91,348.20 449.17,348.49 449.44,348.78 449.70,349.07 449.96,349.35 450.23,349.63 450.50,349.91 450.77,350.18 451.04,350.46 451.31,350.73 451.58,350.99 451.86,351.26 452.13,351.52 452.41,351.78 452.69,352.03 452.97,352.29 453.25,352.54 453.53,352.79 453.82,353.04 454.10,353.28 454.39,353.52 454.68,353.76 454.97,354.00 455.26,354.23 455.55,354.46 455.85,354.69 456.14,354.92 456.44,355.15 456.74,355.37 457.04,355.59 457.34,355.81 457.64,356.02 457.95,356.24 458.25,356.45 458.56,356.66 458.87,356.87 459.18,357.08 459.49,357.28 459.80,357.48 460.11,357.68 460.43,357.88 460.75,358.08 461.06,358.27 461.38,358.46 461.70,358.65 462.03,358.84 462.35,359.03 462.67,359.21 463.00,359.39 463.33,359.57 463.66,359.75 463.99,359.93 464.32,360.11 464.65,360.28 464.99,360.45 465.32,360.62 465.66,360.79 466.00,360.96 466.34,361.12 466.68,361.29 467.03,361.45 467.37,361.61 467.72,361.76 468.06,361.92 468.41,362.08 468.76,362.23 469.11,362.38 469.47,362.53 469.82,362.68 470.18,362.83 470.53,362.97 470.89,363.12 471.25,363.26 471.61,363.40 471.98,363.54 472.34,363.68 472.71,363.81 473.07,363.95 473.44,364.08 473.81,364.21 474.18,364.34 474.55,364.47 474.93,364.60 475.30,364.73 475.68,364.85 476.06,364.97 476.44,365.10 476.82,365.22 477.20,365.33 477.58,365.45 477.97,365.57 478.36,365.68 478.74,365.80 479.13,365.91 479.52,366.02 479.91,366.13 480.31,366.24 480.70,366.35 481.10,366.45 481.50,366.56 481.90,366.66 482.30,366.76 482.70,366.86 483.10,366.96 483.51,367.06 483.91,367.16 484.32,367.25 484.73,367.35 485.14,367.44 485.55,367.54 485.96,367.63 486.38,367.72 486.79,367.81 487.21,367.89 487.63,367.98 488.05,368.07 488.47,368.15 488.89,368.23 489.32,368.32 489.74,368.40 490.17,368.48 490.60,368.56 491.03,368.63 491.46,368.71 491.89,368.79 492.33,368.86 492.76,368.94 493.20,369.01 493.64,369.08 494.08,369.15 494.52,369.22 494.96,369.29 495.40,369.36 495.85,369.43 496.29,369.49 496.74,369.56 497.19,369.62 497.64,369.68 498.09,369.75 498.55,369.81 499.00,369.87 499.46,369.93 499.92,369.99 500.38,370.05 500.84,370.10 501.30,370.16 501.76,370.22 502.23,370.27 502.69,370.32 503.16,370.38 503.63,370.43 504.10,370.48 504.57,370.53 505.04,370.58 505.52,370.63 505.99,370.68 506.47,370.73 506.95,370.77 507.43,370.82 507.91,370.87 508.39,370.91 508.88,370.96 509.36,371.00 509.85,371.04 510.34,371.08 510.83,371.12 511.32,371.17 511.81,371.21 512.31,371.25 512.80,371.28 513.30,371.32 513.80,371.36 514.30,371.40 514.80,371.43 515.30,371.47 515.80,371.50 516.31,371.54 516.82,371.57 517.32,371.61 517.83,371.64 518.34,371.67 518.86,371.70 519.37,371.73 519.89,371.77 520.40,371.80 520.92,371.83 521.44,371.85 521.96,371.88 522.48,371.91 523.00,371.94 523.53,371.97 524.06,371.99 524.58,372.02 525.11,372.05 525.64,372.07 526.17,372.10 526.71,372.12 527.24,372.14 527.78,372.17 528.32,372.19 528.85,372.21 529.39,372.24 529.94,372.26 530.48,372.28 531.02,372.30 531.57,372.32 532.12,372.34 532.66,372.36 533.21,372.38 533.77,372.40 534.32,372.42 534.87,372.44 535.43,372.46 535.99,372.47 536.54,372.49 537.10,372.51 537.66,372.53 538.23,372.54 538.79,372.56 539.36,372.58 539.92,372.59 540.49,372.61 541.06,372.62 541.63,372.64 542.20,372.65 542.78,372.66 543.35,372.68 543.93,372.69 544.51,372.71 545.09,372.72 545.67,372.73 546.25,372.74 546.83,372.76 547.42,372.77 548.00,372.78 548.59,372.79 549.18,372.80 549.77,372.81 550.36,372.83 550.96,372.84 551.55,372.85 552.15,372.86 552.74,372.87 553.34,372.88 553.94,372.89 554.54,372.90 555.15,372.91 555.75,372.91 556.36,372.92 556.97,372.93 557.57,372.94 558.18,372.95 558.80,372.96 559.41,372.97 560.02,372.97 560.64,372.98 561.26,372.99 561.87,373.00 562.49,373.00 563.11,373.01 563.74,373.02 564.36,373.02 564.99,373.03 565.61,373.04 566.24,373.04 566.87,373.05 567.50,373.05 568.13,373.06 568.77,373.07 569.40,373.07 570.04,373.08 570.68,373.08 571.32,373.09 571.96,373.09 572.60,373.10 573.24,373.10 573.89,373.11 574.54,373.11 575.18,373.12 575.83,373.12 576.48,373.13 577.14,373.13 577.79,373.14 578.44,373.14 579.10,373.14 579.76,373.15 580.42,373.15 581.08,373.15 581.74,373.16 582.40,373.16 583.07,373.17 583.73,373.17 584.40,373.17 585.07,373.18 585.74,373.18 586.41,373.18 587.08,373.18 587.76,373.19 588.43,373.19 589.11,373.19 589.79,373.20 590.47,373.20 591.15,373.20 591.83,373.20 592.52,373.21 593.20,373.21 593.89,373.21 594.58,373.21 595.27,373.22 595.96,373.22 596.65,373.22 597.34,373.22 598.04,373.22 598.74,373.23 599.43,373.23 600.13,373.23 600.83,373.23 601.54,373.23 602.24,373.24 602.95,373.24 603.65,373.24 604.36,373.24 605.07,373.24 605.78,373.24 606.49,373.25 607.21,373.25 607.92,373.25 608.64,373.25 609.35,373.25 610.07,373.25 610.79,373.25 611.52,373.26 612.24,373.26 612.96,373.26 613.69,373.26 614.42,373.26 615.15,373.26 615.88,373.26 616.61,373.26 617.34,373.26 618.07,373.27 618.81,373.27 619.55,373.27 620.29,373.27 621.03,373.27 621.77,373.27 622.51,373.27 623.25,373.27 624.00,373.27 624.75,373.27 625.50,373.27 626.25,373.27 627.00,373.28 627.75,373.28 628.50,373.28 629.26,373.28 630.02,373.28 630.77,373.28 631.53,373.28 632.29,373.28 633.06,373.28 633.82,373.28 634.59,373.28 635.35,373.28 636.12,373.28 636.89,373.28 637.66,373.28 638.43,373.28 639.21,373.28 639.98,373.28 640.76,373.29 641.53,373.29 642.31,373.29 643.09,373.29 643.88,373.29 644.66,373.29 645.44,373.29 646.23,373.29 647.02,373.29 647.81,373.29 648.60,373.29 649.39,373.29 650.18,373.29 650.98,373.29 651.77,373.29 652.57,373.29 653.37,373.29 654.17,373.29 654.97,373.29 655.77,373.29 656.58,373.29 657.38,373.29 658.19,373.29 659.00,373.29 659.81,373.29 660.62,373.29 661.43,373.29 662.25,373.29 663.06,373.29 663.88,373.29 664.70,373.29 665.52,373.29 666.34,373.29 667.16,373.29 667.98,373.29 668.81,373.30 669.64,373.30 670.46,373.30 671.29,373.30 672.12,373.30 672.96,373.30 673.79,373.30 674.63,373.30 675.46,373.30 676.30,373.30" fill="none" stroke="#4472c4" stroke-width="1.35" stroke-linejoin="round" stroke-dasharray="3.8 2.6"/>
<polyline points="424.74,373.29 424.74,373.29 424.74,373.29 424.74,373.29 424.75,373.29 424.76,373.29 424.76,373.29 424.77,373.29 424.78,373.29 424.80,373.29 424.81,373.29 424.82,373.29 424.84,373.29 424.86,373.29 424.88,373.29 424.90,373.29 424.92,373.29 424.94,373.29 424.96,373.29 424.99,373.29 425.02,373.29 425.05,373.29 425.08,373.28 425.11,373.28 425.14,373.28 425.18,373.28 425.21,373.28 425.25,373.28 425.29,373.27 425.33,373.27 425.37,373.27 425.41,373.27 425.45,373.26 425.50,373.26 425.55,373.26 425.59,373.25 425.64,373.25 425.70,373.25 425.75,373.24 425.80,373.23 425.86,373.23 425.91,373.22 425.97,373.21 426.03,373.21 426.09,373.20 426.15,373.19 426.22,373.18 426.28,373.17 426.35,373.15 426.42,373.14 426.49,373.12 426.56,373.11 426.63,373.09 426.70,373.07 426.78,373.05 426.85,373.03 426.93,373.00 427.01,372.98 427.09,372.95 427.17,372.92 427.25,372.89 427.34,372.86 427.42,372.82 427.51,372.78 427.60,372.74 427.69,372.69 427.78,372.65 427.88,372.60 427.97,372.54 428.07,372.49 428.16,372.43 428.26,372.36 428.36,372.30 428.46,372.23 428.56,372.15 428.67,372.08 428.77,372.00 428.88,371.91 428.99,371.82 429.10,371.73 429.21,371.63 429.32,371.53 429.44,371.43 429.55,371.32 429.67,371.21 429.79,371.09 429.91,370.97 430.03,370.85 430.15,370.72 430.27,370.59 430.40,370.45 430.53,370.31 430.65,370.17 430.78,370.03 430.91,369.88 431.04,369.72 431.18,369.57 431.31,369.41 431.45,369.25 431.59,369.08 431.73,368.91 431.87,368.74 432.01,368.57 432.15,368.40 432.30,368.22 432.44,368.04 432.59,367.86 432.74,367.68 432.89,367.50 433.04,367.32 433.19,367.14 433.35,366.95 433.50,366.77 433.66,366.58 433.82,366.40 433.98,366.22 434.14,366.03 434.30,365.85 434.47,365.67 434.63,365.49 434.80,365.31 434.97,365.13 435.14,364.96 435.31,364.78 435.48,364.61 435.66,364.44 435.83,364.27 436.01,364.11 436.19,363.94 436.37,363.78 436.55,363.63 436.73,363.47 436.91,363.32 437.10,363.18 437.29,363.03 437.47,362.89 437.66,362.76 437.85,362.63 438.05,362.50 438.24,362.37 438.43,362.25 438.63,362.14 438.83,362.02 439.03,361.92 439.23,361.81 439.43,361.71 439.63,361.62 439.84,361.53 440.04,361.44 440.25,361.36 440.46,361.28 440.67,361.21 440.88,361.14 441.10,361.07 441.31,361.01 441.53,360.96 441.74,360.91 441.96,360.86 442.18,360.82 442.40,360.78 442.63,360.74 442.85,360.71 443.08,360.68 443.30,360.66 443.53,360.64 443.76,360.63 443.99,360.62 444.23,360.61 444.46,360.61 444.70,360.61 444.93,360.61 445.17,360.62 445.41,360.63 445.65,360.65 445.89,360.67 446.14,360.69 446.38,360.71 446.63,360.74 446.88,360.77 447.13,360.80 447.38,360.84 447.63,360.88 447.88,360.92 448.14,360.97 448.40,361.01 448.65,361.06 448.91,361.12 449.17,361.17 449.44,361.23 449.70,361.29 449.96,361.35 450.23,361.41 450.50,361.47 450.77,361.54 451.04,361.61 451.31,361.68 451.58,361.75 451.86,361.83 452.13,361.90 452.41,361.98 452.69,362.05 452.97,362.13 453.25,362.21 453.53,362.30 453.82,362.38 454.10,362.46 454.39,362.55 454.68,362.63 454.97,362.72 455.26,362.81 455.55,362.89 455.85,362.98 456.14,363.07 456.44,363.16 456.74,363.25 457.04,363.34 457.34,363.43 457.64,363.53 457.95,363.62 458.25,363.71 458.56,363.80 458.87,363.90 459.18,363.99 459.49,364.08 459.80,364.18 460.11,364.27 460.43,364.36 460.75,364.46 461.06,364.55 461.38,364.64 461.70,364.74 462.03,364.83 462.35,364.92 462.67,365.02 463.00,365.11 463.33,365.20 463.66,365.29 463.99,365.39 464.32,365.48 464.65,365.57 464.99,365.66 465.32,365.75 465.66,365.84 466.00,365.93 466.34,366.02 466.68,366.11 467.03,366.19 467.37,366.28 467.72,366.37 468.06,366.46 468.41,366.54 468.76,366.63 469.11,366.71 469.47,366.80 469.82,366.88 470.18,366.96 470.53,367.05 470.89,367.13 471.25,367.21 471.61,367.29 471.98,367.37 472.34,367.45 472.71,367.53 473.07,367.61 473.44,367.69 473.81,367.76 474.18,367.84 474.55,367.92 474.93,367.99 475.30,368.06 475.68,368.14 476.06,368.21 476.44,368.28 476.82,368.35 477.20,368.43 477.58,368.50 477.97,368.56 478.36,368.63 478.74,368.70 479.13,368.77 479.52,368.84 479.91,368.90 480.31,368.97 480.70,369.03 481.10,369.09 481.50,369.16 481.90,369.22 482.30,369.28 482.70,369.34 483.10,369.40 483.51,369.46 483.91,369.52 484.32,369.58 484.73,369.64 485.14,369.69 485.55,369.75 485.96,369.81 486.38,369.86 486.79,369.92 487.21,369.97 487.63,370.02 488.05,370.07 488.47,370.13 488.89,370.18 489.32,370.23 489.74,370.28 490.17,370.33 490.60,370.37 491.03,370.42 491.46,370.47 491.89,370.52 492.33,370.56 492.76,370.61 493.20,370.65 493.64,370.70 494.08,370.74 494.52,370.78 494.96,370.83 495.40,370.87 495.85,370.91 496.29,370.95 496.74,370.99 497.19,371.03 497.64,371.07 498.09,371.11 498.55,371.14 499.00,371.18 499.46,371.22 499.92,371.25 500.38,371.29 500.84,371.33 501.30,371.36 501.76,371.39 502.23,371.43 502.69,371.46 503.16,371.49 503.63,371.53 504.10,371.56 504.57,371.59 505.04,371.62 505.52,371.65 505.99,371.68 506.47,371.71 506.95,371.74 507.43,371.77 507.91,371.80 508.39,371.82 508.88,371.85 509.36,371.88 509.85,371.90 510.34,371.93 510.83,371.96 511.32,371.98 511.81,372.01 512.31,372.03 512.80,372.05 513.30,372.08 513.80,372.10 514.30,372.12 514.80,372.15 515.30,372.17 515.80,372.19 516.31,372.21 516.82,372.23 517.32,372.25 517.83,372.27 518.34,372.29 518.86,372.31 519.37,372.33 519.89,372.35 520.40,372.37 520.92,372.39 521.44,372.41 521.96,372.42 522.48,372.44 523.00,372.46 523.53,372.48 524.06,372.49 524.58,372.51 525.11,372.52 525.64,372.54 526.17,372.56 526.71,372.57 527.24,372.59 527.78,372.60 528.32,372.61 528.85,372.63 529.39,372.64 529.94,372.66 530.48,372.67 531.02,372.68 531.57,372.70 532.12,372.71 532.66,372.72 533.21,372.73 533.77,372.74 534.32,372.76 534.87,372.77 535.43,372.78 535.99,372.79 536.54,372.80 537.10,372.81 537.66,372.82 538.23,372.83 538.79,372.84 539.36,372.85 539.92,372.86 540.49,372.87 541.06,372.88 541.63,372.89 542.20,372.90 542.78,372.91 543.35,372.92 543.93,372.92 544.51,372.93 545.09,372.94 545.67,372.95 546.25,372.96 546.83,372.96 547.42,372.97 548.00,372.98 548.59,372.99 549.18,372.99 549.77,373.00 550.36,373.01 550.96,373.01 551.55,373.02 552.15,373.03 552.74,373.03 553.34,373.04 553.94,373.04 554.54,373.05 555.15,373.06 555.75,373.06 556.36,373.07 556.97,373.07 557.57,373.08 558.18,373.08 558.80,373.09 559.41,373.09 560.02,373.10 560.64,373.10 561.26,373.11 561.87,373.11 562.49,373.12 563.11,373.12 563.74,373.12 564.36,373.13 564.99,373.13 565.61,373.14 566.24,373.14 566.87,373.14 567.50,373.15 568.13,373.15 568.77,373.16 569.40,373.16 570.04,373.16 570.68,373.17 571.32,373.17 571.96,373.17 572.60,373.18 573.24,373.18 573.89,373.18 574.54,373.18 575.18,373.19 575.83,373.19 576.48,373.19 577.14,373.20 577.79,373.20 578.44,373.20 579.10,373.20 579.76,373.21 580.42,373.21 581.08,373.21 581.74,373.21 582.40,373.21 583.07,373.22 583.73,373.22 584.40,373.22 585.07,373.22 585.74,373.22 586.41,373.23 587.08,373.23 587.76,373.23 588.43,373.23 589.11,373.23 589.79,373.24 590.47,373.24 591.15,373.24 591.83,373.24 592.52,373.24 593.20,373.24 593.89,373.25 594.58,373.25 595.27,373.25 595.96,373.25 596.65,373.25 597.34,373.25 598.04,373.25 598.74,373.25 599.43,373.26 600.13,373.26 600.83,373.26 601.54,373.26 602.24,373.26 602.95,373.26 603.65,373.26 604.36,373.26 605.07,373.26 605.78,373.27 606.49,373.27 607.21,373.27 607.92,373.27 608.64,373.27 609.35,373.27 610.07,373.27 610.79,373.27 611.52,373.27 612.24,373.27 612.96,373.27 613.69,373.27 614.42,373.28 615.15,373.28 615.88,373.28 616.61,373.28 617.34,373.28 618.07,373.28 618.81,373.28 619.55,373.28 620.29,373.28 621.03,373.28 621.77,373.28 622.51,373.28 623.25,373.28 624.00,373.28 624.75,373.28 625.50,373.28 626.25,373.28 627.00,373.28 627.75,373.29 628.50,373.29 629.26,373.29 630.02,373.29 630.77,373.29 631.53,373.29 632.29,373.29 633.06,373.29 633.82,373.29 634.59,373.29 635.35,373.29 636.12,373.29 636.89,373.29 637.66,373.29 638.43,373.29 639.21,373.29 639.98,373.29 640.76,373.29 641.53,373.29 642.31,373.29 643.09,373.29 643.88,373.29 644.66,373.29 645.44,373.29 646.23,373.29 647.02,373.29 647.81,373.29 648.60,373.29 649.39,373.29 650.18,373.29 650.98,373.29 651.77,373.29 652.57,373.29 653.37,373.29 654.17,373.29 654.97,373.29 655.77,373.29 656.58,373.30 657.38,373.30 658.19,373.30 659.00,373.30 659.81,373.30 660.62,373.30 661.43,373.30 662.25,373.30 663.06,373.30 663.88,373.30 664.70,373.30 665.52,373.30 666.34,373.30 667.16,373.30 667.98,373.30 668.81,373.30 669.64,373.30 670.46,373.30 671.29,373.30 672.12,373.30 672.96,373.30 673.79,373.30 674.63,373.30 675.46,373.30 676.30,373.30" fill="none" stroke="#e8141c" stroke-width="1.35" stroke-linejoin="round" stroke-dasharray="3.8 2.6"/>
</g>
<text x="523.50" y="171.00" font-size="12" font-weight="normal" font-style="normal" font-family='"Liberation Sans", sans-serif' fill="#000" text-anchor="start" textLength="33.30" lengthAdjust="spacingAndGlyphs">EFT12</text>
<text x="585.40" y="171.00" font-size="12" font-weight="normal" font-style="normal" font-family='"Liberation Sans", sans-serif' fill="#000" text-anchor="start" textLength="19.60" lengthAdjust="spacingAndGlyphs">REF</text>
<rect x="527.1" y="177.6" width="30.2" height="6.40" fill="#5b9bd5"/>
<rect x="576.4" y="177.6" width="10.80" height="6.40" fill="#ffc000"/>
<rect x="590.2" y="177.6" width="10.50" height="6.40" fill="#ffc000"/>
<rect x="603.8" y="177.6" width="10.40" height="6.40" fill="#ffc000"/>
<rect x="527.1" y="195.5" width="30.2" height="6.80" fill="#ed7d31"/>
<rect x="576.4" y="195.5" width="10.80" height="6.80" fill="#4472c4"/>
<rect x="590.2" y="195.5" width="10.50" height="6.80" fill="#4472c4"/>
<rect x="603.8" y="195.5" width="10.40" height="6.80" fill="#4472c4"/>
<rect x="527.1" y="212.1" width="30.2" height="6.60" fill="#a5a5a5"/>
<rect x="576.4" y="212.1" width="10.80" height="6.60" fill="#e8141c"/>
<rect x="590.2" y="212.1" width="10.50" height="6.60" fill="#e8141c"/>
<rect x="603.8" y="212.1" width="10.40" height="6.60" fill="#e8141c"/>
<text x="625.00" y="185.00" font-size="12.5" font-weight="normal" font-style="normal" font-family='"Liberation Sans", sans-serif' fill="#000" text-anchor="start" textLength="28.60" lengthAdjust="spacingAndGlyphs">Node</text>
<text x="665.10" y="185.00" font-size="12.5" font-weight="normal" font-style="normal" font-family='"Liberation Sans", sans-serif' fill="#000" text-anchor="start" textLength="5.90" lengthAdjust="spacingAndGlyphs">2</text>
<text x="625.00" y="204.20" font-size="12.5" font-weight="normal" font-style="normal" font-family='"Liberation Sans", sans-serif' fill="#000" text-anchor="start" textLength="28.60" lengthAdjust="spacingAndGlyphs">Node</text>
<text x="665.10" y="204.20" font-size="12.5" font-weight="normal" font-style="normal" font-family='"Liberation Sans", sans-serif' fill="#000" text-anchor="start" textLength="5.90" lengthAdjust="spacingAndGlyphs">5</text>
<text x="625.00" y="219.50" font-size="12.5" font-weight="normal" font-style="normal" font-family='"Liberation Sans", sans-serif' fill="#000" text-anchor="start" textLength="47.20" lengthAdjust="spacingAndGlyphs">Node 10</text>
<text x="494.70" y="401.10" font-size="12.5" font-weight="normal" font-style="normal" font-family='"Liberation Sans", sans-serif' fill="#000" text-anchor="start" textLength="42.40" lengthAdjust="spacingAndGlyphs">Time (s)</text>
<g transform="translate(385.6,342.3) rotate(-90)">
<text x="0.00" y="0.00" font-size="17.5" font-weight="normal" font-style="normal" font-family='"Liberation Serif", serif' fill="#000" text-anchor="start" textLength="9.50" lengthAdjust="spacingAndGlyphs">Δ</text>
<text x="9.80" y="0.00" font-size="17.5" font-weight="normal" font-style="italic" font-family='"Liberation Serif", serif' fill="#000" text-anchor="start" textLength="9.50" lengthAdjust="spacingAndGlyphs">Ø</text>
<text x="27.80" y="0.00" font-size="17.5" font-weight="normal" font-style="normal" font-family='"Liberation Serif", serif' fill="#000" text-anchor="start" textLength="9.00" lengthAdjust="spacingAndGlyphs">=</text>
<text x="43.40" y="0.00" font-size="17.5" font-weight="normal" font-style="italic" font-family='"Liberation Serif", serif' fill="#000" text-anchor="start" textLength="9.50" lengthAdjust="spacingAndGlyphs">Ø</text>
<text x="53.00" y="3.60" font-size="12.5" font-weight="normal" font-style="italic" font-family='"Liberation Serif", serif' fill="#000" text-anchor="start" textLength="6.00" lengthAdjust="spacingAndGlyphs">n</text>
<text x="66.00" y="0.00" font-size="17.5" font-weight="normal" font-style="normal" font-family='"Liberation Serif", serif' fill="#000" text-anchor="start" textLength="8.70" lengthAdjust="spacingAndGlyphs">−</text>
<text x="79.90" y="0.00" font-size="17.5" font-weight="normal" font-style="italic" font-family='"Liberation Serif", serif' fill="#000" text-anchor="start" textLength="9.50" lengthAdjust="spacingAndGlyphs">Ø</text>
<text x="89.50" y="3.60" font-size="12.5" font-weight="normal" font-style="italic" font-family='"Liberation Serif", serif' fill="#000" text-anchor="start" textLength="18.00" lengthAdjust="spacingAndGlyphs">n−1</text>
<text x="121.50" y="2.40" font-size="12" font-weight="normal" font-style="normal" font-family='"Liberation Serif", serif' fill="#000" text-anchor="start" textLength="48.60" lengthAdjust="spacingAndGlyphs">@ 0.005 s</text>
</g>
<line x1="403.20" y1="548.70" x2="637.10" y2="548.70" stroke="#d6d6d6" stroke-width="0.75"/>
<line x1="403.20" y1="525.70" x2="637.10" y2="525.70" stroke="#d6d6d6" stroke-width="0.75"/>
<line x1="403.20" y1="502.70" x2="637.10" y2="502.70" stroke="#d6d6d6" stroke-width="0.75"/>
<line x1="403.20" y1="479.70" x2="637.10" y2="479.70" stroke="#d6d6d6" stroke-width="0.75"/>
<line x1="403.20" y1="456.70" x2="637.10" y2="456.70" stroke="#d6d6d6" stroke-width="0.75"/>
<line x1="403.20" y1="433.70" x2="637.10" y2="433.70" stroke="#d6d6d6" stroke-width="0.75"/>
<line x1="403.20" y1="410.70" x2="637.10" y2="410.70" stroke="#d6d6d6" stroke-width="0.75"/>
<line x1="403.20" y1="410.70" x2="403.20" y2="548.70" stroke="#d6d6d6" stroke-width="0.75"/>
<line x1="449.98" y1="410.70" x2="449.98" y2="548.70" stroke="#d6d6d6" stroke-width="0.75"/>
<line x1="496.76" y1="410.70" x2="496.76" y2="548.70" stroke="#d6d6d6" stroke-width="0.75"/>
<line x1="543.54" y1="410.70" x2="543.54" y2="548.70" stroke="#d6d6d6" stroke-width="0.75"/>
<line x1="590.32" y1="410.70" x2="590.32" y2="548.70" stroke="#d6d6d6" stroke-width="0.75"/>
<line x1="637.10" y1="410.70" x2="637.10" y2="548.70" stroke="#d6d6d6" stroke-width="0.75"/>
<text x="367.90" y="551.50" font-size="8.0" font-weight="bold" font-style="normal" font-family='"Liberation Sans", sans-serif' fill="#595959" text-anchor="start" textLength="26.60" lengthAdjust="spacingAndGlyphs">0,0000</text>
<text x="367.90" y="528.50" font-size="8.0" font-weight="bold" font-style="normal" font-family='"Liberation Sans", sans-serif' fill="#595959" text-anchor="start" textLength="26.60" lengthAdjust="spacingAndGlyphs">0,0010</text>
<text x="367.90" y="505.50" font-size="8.0" font-weight="bold" font-style="normal" font-family='"Liberation Sans", sans-serif' fill="#595959" text-anchor="start" textLength="26.60" lengthAdjust="spacingAndGlyphs">0,0020</text>
<text x="367.90" y="482.50" font-size="8.0" font-weight="bold" font-style="normal" font-family='"Liberation Sans", sans-serif' fill="#595959" text-anchor="start" textLength="26.60" lengthAdjust="spacingAndGlyphs">0,0030</text>
<text x="367.90" y="459.50" font-size="8.0" font-weight="bold" font-style="normal" font-family='"Liberation Sans", sans-serif' fill="#595959" text-anchor="start" textLength="26.60" lengthAdjust="spacingAndGlyphs">0,0040</text>
<text x="367.90" y="436.50" font-size="8.0" font-weight="bold" font-style="normal" font-family='"Liberation Sans", sans-serif' fill="#595959" text-anchor="start" textLength="26.60" lengthAdjust="spacingAndGlyphs">0,0050</text>
<text x="367.90" y="413.50" font-size="8.0" font-weight="bold" font-style="normal" font-family='"Liberation Sans", sans-serif' fill="#595959" text-anchor="start" textLength="26.60" lengthAdjust="spacingAndGlyphs">0,0060</text>
<text x="403.20" y="563.60" font-size="8.2" font-weight="bold" font-style="normal" font-family='"Liberation Sans", sans-serif' fill="#595959" text-anchor="middle">0</text>
<text x="449.98" y="563.60" font-size="8.2" font-weight="bold" font-style="normal" font-family='"Liberation Sans", sans-serif' fill="#595959" text-anchor="middle">0,2</text>
<text x="496.76" y="563.60" font-size="8.2" font-weight="bold" font-style="normal" font-family='"Liberation Sans", sans-serif' fill="#595959" text-anchor="middle">0,4</text>
<text x="543.54" y="563.60" font-size="8.2" font-weight="bold" font-style="normal" font-family='"Liberation Sans", sans-serif' fill="#595959" text-anchor="middle">0,6</text>
<text x="590.32" y="563.60" font-size="8.2" font-weight="bold" font-style="normal" font-family='"Liberation Sans", sans-serif' fill="#595959" text-anchor="middle">0,8</text>
<text x="637.10" y="563.60" font-size="8.2" font-weight="bold" font-style="normal" font-family='"Liberation Sans", sans-serif' fill="#595959" text-anchor="middle">1</text>
<polyline points="403.20,538.12 421.91,538.12 438.75,433.70 637.10,433.70" fill="none" stroke="#5b9bd5" stroke-width="1.3" stroke-linejoin="round"/>
<text x="351.10" y="493.30" font-size="15.5" font-weight="normal" font-style="normal" font-family='"Liberation Serif", serif' fill="#000" text-anchor="start" textLength="9.40" lengthAdjust="spacingAndGlyphs">Δ</text>
<text x="360.50" y="493.30" font-size="15.5" font-weight="normal" font-style="normal" font-family='"Liberation Serif", serif' fill="#000" text-anchor="start" textLength="5.00" lengthAdjust="spacingAndGlyphs">t</text>
<text x="503.00" y="573.30" font-size="11.5" font-weight="normal" font-style="normal" font-family='"Liberation Sans", sans-serif' fill="#000" text-anchor="start" textLength="36.90" lengthAdjust="spacingAndGlyphs">Time (s)</text>
<text x="79.10" y="457.70" font-size="13.8" font-weight="bold" font-style="normal" font-family='"Liberation Sans", sans-serif' fill="#000" text-anchor="start" textLength="167.90" lengthAdjust="spacingAndGlyphs">EFT12. Variable time step.</text>
<text x="79.10" y="477.00" font-size="14.3" font-weight="normal" font-style="normal" font-family='"Liberation Sans", sans-serif' fill="#000" text-anchor="start" textLength="119.00" lengthAdjust="spacingAndGlyphs">Time step variation</text>
<text x="208.50" y="477.00" font-size="14.3" font-weight="normal" font-style="normal" font-family='"Liberation Sans", sans-serif' fill="#000" text-anchor="start" textLength="51.30" lengthAdjust="spacingAndGlyphs">to reach</text>
<text x="79.00" y="495.30" font-size="15.5" font-weight="normal" font-style="normal" font-family='"Liberation Serif", serif' fill="#000" text-anchor="start" textLength="9.20" lengthAdjust="spacingAndGlyphs">Δ</text>
<text x="88.60" y="495.30" font-size="15.5" font-weight="normal" font-style="normal" font-family='"Liberation Serif", serif' fill="#000" text-anchor="start" textLength="5.00" lengthAdjust="spacingAndGlyphs">t</text>
<text x="94.80" y="489.70" font-size="11.2" font-weight="bold" font-style="normal" font-family='"Liberation Serif", serif' fill="#000" text-anchor="start" textLength="20.80" lengthAdjust="spacingAndGlyphs">EFT</text>
<text x="116.70" y="495.30" font-size="14.3" font-weight="normal" font-style="normal" font-family='"Liberation Sans", sans-serif' fill="#000" text-anchor="start" textLength="7.00" lengthAdjust="spacingAndGlyphs">=</text>
<text x="131.30" y="495.30" font-size="14.3" font-weight="normal" font-style="normal" font-family='"Liberation Sans", sans-serif' fill="#000" text-anchor="start" textLength="54.70" lengthAdjust="spacingAndGlyphs">0.0050 s,</text>
<text x="195.90" y="495.30" font-size="14.3" font-weight="normal" font-style="normal" font-family='"Liberation Sans", sans-serif' fill="#000" text-anchor="start" textLength="106.60" lengthAdjust="spacingAndGlyphs">corresponding to</text>
<text x="82.80" y="514.80" font-size="14.3" font-weight="normal" font-style="normal" font-family='"Liberation Sans", sans-serif' fill="#000" text-anchor="start" textLength="93.00" lengthAdjust="spacingAndGlyphs">δ = 0.8008 and</text>
<text x="187.90" y="515.00" font-size="15.6" font-weight="bold" font-style="normal" font-family='"Liberation Serif", serif' fill="#ff0000" text-anchor="start" textLength="28.10" lengthAdjust="spacingAndGlyphs">SUP</text>
<text x="216.70" y="508.60" font-size="11.2" font-weight="bold" font-style="normal" font-family='"Liberation Serif", serif' fill="#ff0000" text-anchor="start" textLength="13.20" lengthAdjust="spacingAndGlyphs">FE</text>
<text x="234.20" y="515.00" font-size="13.8" font-weight="bold" font-style="normal" font-family='"Liberation Sans", sans-serif' fill="#ff0000" text-anchor="start" textLength="46.80" lengthAdjust="spacingAndGlyphs">= 10.00</text>
</g>
</svg>
</body></html>
